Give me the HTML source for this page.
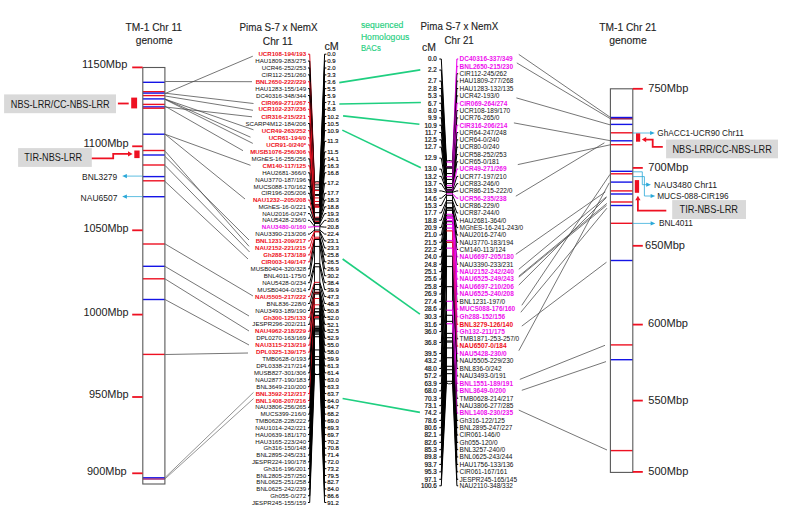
<!DOCTYPE html>
<html><head><meta charset="utf-8"><title>Chr11 / Chr21 comparative map</title>
<style>
html,body{margin:0;padding:0;background:#fff;}
svg{display:block;font-family:"Liberation Sans",sans-serif;}
</style></head>
<body>
<svg width="804" height="505" viewBox="0 0 804 505">
<rect width="804" height="505" fill="#fff"/>
<text x="125.50" y="30.70" font-size="10.6" fill="#222" textLength="56.5" lengthAdjust="spacingAndGlyphs" stroke="#222" stroke-width="0.12">TM-1 Chr 11</text>
<text x="135.80" y="44.30" font-size="10.6" fill="#222" textLength="36.8" lengthAdjust="spacingAndGlyphs" stroke="#222" stroke-width="0.12">genome</text>
<text x="239.50" y="31.30" font-size="10.6" fill="#222" textLength="78" lengthAdjust="spacingAndGlyphs" stroke="#222" stroke-width="0.12">Pima S-7 x NemX</text>
<text x="262.80" y="45.20" font-size="10.6" fill="#222" textLength="29.9" lengthAdjust="spacingAndGlyphs" stroke="#222" stroke-width="0.12">Chr 11</text>
<text x="324.50" y="50.20" font-size="10.6" fill="#222" textLength="14.3" lengthAdjust="spacingAndGlyphs" stroke="#222" stroke-width="0.12">cM</text>
<text x="360.90" y="28.30" font-size="8.9" fill="#1fcf80" textLength="42.4" lengthAdjust="spacingAndGlyphs" stroke="#1fcf80" stroke-width="0.15">sequenced</text>
<text x="360.90" y="39.90" font-size="8.9" fill="#1fcf80" textLength="48.4" lengthAdjust="spacingAndGlyphs" stroke="#1fcf80" stroke-width="0.15">Homologous</text>
<text x="360.90" y="50.80" font-size="8.9" fill="#1fcf80" textLength="19.9" lengthAdjust="spacingAndGlyphs" stroke="#1fcf80" stroke-width="0.15">BACs</text>
<text x="420.60" y="30.30" font-size="10.6" fill="#222" textLength="77.6" lengthAdjust="spacingAndGlyphs" stroke="#222" stroke-width="0.12">Pima S-7 x NemX</text>
<text x="444.50" y="44.20" font-size="10.6" fill="#222" textLength="29.2" lengthAdjust="spacingAndGlyphs" stroke="#222" stroke-width="0.12">Chr 21</text>
<text x="422.00" y="51.20" font-size="10.6" fill="#222" textLength="13.9" lengthAdjust="spacingAndGlyphs" stroke="#222" stroke-width="0.12">cM</text>
<text x="599.30" y="30.50" font-size="10.6" fill="#222" textLength="57.2" lengthAdjust="spacingAndGlyphs" stroke="#222" stroke-width="0.12">TM-1 Chr 21</text>
<text x="609.20" y="44.30" font-size="10.6" fill="#222" textLength="37.5" lengthAdjust="spacingAndGlyphs" stroke="#222" stroke-width="0.12">genome</text>
<line x1="142.80" y1="82.30" x2="164.90" y2="82.30" stroke="#1414e6" stroke-width="1.4"/>
<line x1="142.80" y1="91.70" x2="164.90" y2="91.70" stroke="#ee1122" stroke-width="1.4"/>
<line x1="142.80" y1="93.10" x2="164.90" y2="93.10" stroke="#1414e6" stroke-width="1.4"/>
<line x1="142.80" y1="95.60" x2="164.90" y2="95.60" stroke="#ee1122" stroke-width="1.4"/>
<line x1="142.80" y1="98.90" x2="164.90" y2="98.90" stroke="#1414e6" stroke-width="1.4"/>
<line x1="142.80" y1="104.40" x2="164.90" y2="104.40" stroke="#ee1122" stroke-width="1.4"/>
<line x1="142.80" y1="106.90" x2="164.90" y2="106.90" stroke="#1414e6" stroke-width="1.4"/>
<line x1="142.80" y1="108.20" x2="164.90" y2="108.20" stroke="#ee1122" stroke-width="1.4"/>
<line x1="142.80" y1="134.20" x2="164.90" y2="134.20" stroke="#1414e6" stroke-width="1.4"/>
<line x1="142.80" y1="150.50" x2="164.90" y2="150.50" stroke="#ee1122" stroke-width="1.4"/>
<line x1="142.80" y1="155.00" x2="164.90" y2="155.00" stroke="#1414e6" stroke-width="1.4"/>
<line x1="142.80" y1="165.00" x2="164.90" y2="165.00" stroke="#ee1122" stroke-width="1.4"/>
<line x1="142.80" y1="176.60" x2="164.90" y2="176.60" stroke="#1414e6" stroke-width="1.4"/>
<line x1="142.80" y1="180.80" x2="164.90" y2="180.80" stroke="#ee1122" stroke-width="1.4"/>
<line x1="142.80" y1="196.70" x2="164.90" y2="196.70" stroke="#1414e6" stroke-width="1.4"/>
<line x1="142.80" y1="244.00" x2="164.90" y2="244.00" stroke="#ee1122" stroke-width="1.4"/>
<line x1="142.80" y1="266.30" x2="164.90" y2="266.30" stroke="#1414e6" stroke-width="1.4"/>
<line x1="142.80" y1="278.80" x2="164.90" y2="278.80" stroke="#ee1122" stroke-width="1.4"/>
<line x1="142.80" y1="299.50" x2="164.90" y2="299.50" stroke="#1414e6" stroke-width="1.4"/>
<line x1="142.80" y1="354.40" x2="164.90" y2="354.40" stroke="#ee1122" stroke-width="1.4"/>
<line x1="142.80" y1="477.80" x2="164.90" y2="477.80" stroke="#1414e6" stroke-width="1.4"/>
<line x1="142.80" y1="479.00" x2="164.90" y2="479.00" stroke="#9a2070" stroke-width="1.4"/>
<rect x="142.8" y="67.5" width="22.099999999999994" height="416.5" fill="none" stroke="#585858" stroke-width="1.1"/>
<line x1="132.20" y1="67.40" x2="142.60" y2="67.40" stroke="#ee1122" stroke-width="1.8"/>
<text x="82.00" y="68.30" font-size="10.4" fill="#222" textLength="45.3" lengthAdjust="spacingAndGlyphs">1150Mbp</text>
<line x1="132.20" y1="146.30" x2="142.60" y2="146.30" stroke="#ee1122" stroke-width="1.8"/>
<text x="83.50" y="147.20" font-size="10.4" fill="#222" textLength="45.1" lengthAdjust="spacingAndGlyphs">1100Mbp</text>
<line x1="132.20" y1="230.30" x2="142.60" y2="230.30" stroke="#ee1122" stroke-width="1.8"/>
<text x="83.50" y="231.80" font-size="10.4" fill="#222" textLength="45.1" lengthAdjust="spacingAndGlyphs">1050Mbp</text>
<line x1="132.20" y1="314.60" x2="142.60" y2="314.60" stroke="#ee1122" stroke-width="1.8"/>
<text x="83.50" y="316.10" font-size="10.4" fill="#222" textLength="45.1" lengthAdjust="spacingAndGlyphs">1000Mbp</text>
<line x1="132.20" y1="397.00" x2="142.60" y2="397.00" stroke="#ee1122" stroke-width="1.8"/>
<text x="89.00" y="397.90" font-size="10.4" fill="#222" textLength="39.6" lengthAdjust="spacingAndGlyphs">950Mbp</text>
<line x1="132.20" y1="473.30" x2="142.60" y2="473.30" stroke="#ee1122" stroke-width="1.8"/>
<text x="87.00" y="474.50" font-size="10.4" fill="#222" textLength="39.7" lengthAdjust="spacingAndGlyphs">900Mbp</text>
<line x1="610.40" y1="117.50" x2="632.80" y2="117.50" stroke="#1414e6" stroke-width="1.4"/>
<line x1="610.40" y1="118.80" x2="632.80" y2="118.80" stroke="#8a1048" stroke-width="1.4"/>
<line x1="610.40" y1="124.40" x2="632.80" y2="124.40" stroke="#1414e6" stroke-width="1.4"/>
<line x1="610.40" y1="132.80" x2="632.80" y2="132.80" stroke="#ee1122" stroke-width="1.4"/>
<line x1="610.40" y1="140.80" x2="632.80" y2="140.80" stroke="#1414e6" stroke-width="1.4"/>
<line x1="610.40" y1="144.70" x2="632.80" y2="144.70" stroke="#ee1122" stroke-width="1.4"/>
<line x1="610.40" y1="171.30" x2="632.80" y2="171.30" stroke="#1414e6" stroke-width="1.4"/>
<line x1="610.40" y1="173.80" x2="632.80" y2="173.80" stroke="#ee1122" stroke-width="1.4"/>
<line x1="610.40" y1="182.10" x2="632.80" y2="182.10" stroke="#1414e6" stroke-width="1.4"/>
<line x1="610.40" y1="190.90" x2="632.80" y2="190.90" stroke="#ee1122" stroke-width="1.4"/>
<line x1="610.40" y1="194.00" x2="632.80" y2="194.00" stroke="#1414e6" stroke-width="1.4"/>
<line x1="610.40" y1="202.00" x2="632.80" y2="202.00" stroke="#ee1122" stroke-width="1.4"/>
<line x1="610.40" y1="205.50" x2="632.80" y2="205.50" stroke="#1414e6" stroke-width="1.4"/>
<line x1="610.40" y1="223.30" x2="632.80" y2="223.30" stroke="#ee1122" stroke-width="1.4"/>
<line x1="610.40" y1="260.50" x2="632.80" y2="260.50" stroke="#1414e6" stroke-width="1.4"/>
<line x1="610.40" y1="344.90" x2="632.80" y2="344.90" stroke="#ee1122" stroke-width="1.4"/>
<line x1="610.40" y1="359.70" x2="632.80" y2="359.70" stroke="#1414e6" stroke-width="1.4"/>
<line x1="610.40" y1="450.60" x2="632.80" y2="450.60" stroke="#ee1122" stroke-width="1.4"/>
<rect x="610.4" y="88.8" width="22.399999999999977" height="383.59999999999997" fill="none" stroke="#585858" stroke-width="1.1"/>
<line x1="632.80" y1="88.80" x2="642.80" y2="88.80" stroke="#ee1122" stroke-width="1.8"/>
<text x="648.30" y="92.10" font-size="10.4" fill="#222" textLength="40.0" lengthAdjust="spacingAndGlyphs">750Mbp</text>
<line x1="632.80" y1="167.90" x2="642.80" y2="167.90" stroke="#ee1122" stroke-width="1.8"/>
<text x="648.30" y="171.30" font-size="10.4" fill="#222" textLength="40.0" lengthAdjust="spacingAndGlyphs">700Mbp</text>
<line x1="632.80" y1="245.80" x2="642.80" y2="245.80" stroke="#ee1122" stroke-width="1.8"/>
<text x="645.00" y="248.80" font-size="10.4" fill="#222" textLength="40.0" lengthAdjust="spacingAndGlyphs">650Mbp</text>
<line x1="632.80" y1="324.60" x2="642.80" y2="324.60" stroke="#ee1122" stroke-width="1.8"/>
<text x="648.00" y="326.50" font-size="10.4" fill="#222" textLength="40.0" lengthAdjust="spacingAndGlyphs">600Mbp</text>
<line x1="632.80" y1="400.60" x2="642.80" y2="400.60" stroke="#ee1122" stroke-width="1.8"/>
<text x="648.30" y="403.60" font-size="10.4" fill="#222" textLength="40.0" lengthAdjust="spacingAndGlyphs">550Mbp</text>
<line x1="632.80" y1="471.90" x2="642.80" y2="471.90" stroke="#ee1122" stroke-width="1.8"/>
<text x="648.30" y="474.90" font-size="10.4" fill="#222" textLength="40.0" lengthAdjust="spacingAndGlyphs">500Mbp</text>
<rect x="4.1" y="94.4" width="111.9" height="18.8" fill="#d9d9d9"/>
<text x="10.80" y="107.80" font-size="10.3" fill="#1a1a1a" textLength="98.9" lengthAdjust="spacingAndGlyphs">NBS-LRR/CC-NBS-LRR</text>
<line x1="117.90" y1="103.50" x2="128.70" y2="103.50" stroke="#ee1122" stroke-width="1.8"/>
<rect x="131.2" y="97.6" width="5.9" height="10.8" fill="#ee1122"/>
<rect x="18.1" y="148.1" width="73.7" height="18.8" fill="#d9d9d9"/>
<text x="24.30" y="160.80" font-size="10.3" fill="#1a1a1a" textLength="57.8" lengthAdjust="spacingAndGlyphs">TIR-NBS-LRR</text>
<polyline points="91.8,158.4 113.2,158.4 113.2,153.9 129,153.9" fill="none" stroke="#ee1122" stroke-width="1.8"/>
<polygon points="128,151.2 132.6,153.9 128,156.6" fill="#ee1122"/>
<rect x="134.3" y="150.5" width="5.3" height="7.6" fill="#ee1122"/>
<line x1="142.40" y1="176.10" x2="125.20" y2="176.10" stroke="#2aa8d8" stroke-width="0.75"/>
<polygon points="122.2,176.1 126.9,174.0 126.9,178.2" fill="#2aa8d8"/>
<line x1="142.40" y1="196.60" x2="125.20" y2="196.60" stroke="#2aa8d8" stroke-width="0.75"/>
<polygon points="122.2,196.6 126.9,194.5 126.9,198.7" fill="#2aa8d8"/>
<text x="82.10" y="180.00" font-size="8.2" fill="#222" textLength="35.1" lengthAdjust="spacingAndGlyphs">BNL3279</text>
<text x="80.60" y="200.90" font-size="8.2" fill="#222" textLength="36.9" lengthAdjust="spacingAndGlyphs">NAU6507</text>
<line x1="632.80" y1="133.00" x2="651.80" y2="133.00" stroke="#2aa8d8" stroke-width="0.75"/>
<polygon points="654.8,133.0 650.1,130.9 650.1,135.1" fill="#2aa8d8"/>
<text x="657.30" y="136.10" font-size="8.2" fill="#222" textLength="86.5" lengthAdjust="spacingAndGlyphs">GhACC1-UCR90 Chr11</text>
<rect x="636" y="133.4" width="4.2" height="8.3" fill="#ee1122"/>
<polyline points="662.8,146.8 652.7,146.8 652.7,139.6 645,139.6" fill="none" stroke="#ee1122" stroke-width="1.8"/>
<polygon points="646.2,136.9 641.8,139.6 646.2,142.3" fill="#ee1122"/>
<rect x="666.1" y="139.6" width="111.9" height="18.7" fill="#d9d9d9"/>
<text x="672.50" y="152.60" font-size="10.3" fill="#1a1a1a" textLength="99.3" lengthAdjust="spacingAndGlyphs">NBS-LRR/CC-NBS-LRR</text>
<polyline points="632.8,171.8 642.3,171.8 642.3,184.7 647.5,184.7" fill="none" stroke="#2aa8d8" stroke-width="0.8"/>
<polygon points="650.9,184.7 646.2,182.6 646.2,186.8" fill="#2aa8d8"/>
<polyline points="632.8,176.6 644.4,176.6 644.4,196.0 652,196.0" fill="none" stroke="#2aa8d8" stroke-width="0.8"/>
<polygon points="655.3,196.0 650.6,193.9 650.6,198.1" fill="#2aa8d8"/>
<text x="654.10" y="187.70" font-size="8.2" fill="#222" textLength="63" lengthAdjust="spacingAndGlyphs">NAU3480  Chr11</text>
<text x="657.20" y="199.00" font-size="8.2" fill="#222" textLength="71.5" lengthAdjust="spacingAndGlyphs">MUCS-088-CIR196</text>
<rect x="634.8" y="180.1" width="4.3" height="12.7" fill="#ee1122"/>
<polyline points="666.3,210.6 637.9,210.6 637.9,199" fill="none" stroke="#ee1122" stroke-width="1.8"/>
<polygon points="635.3,200.2 637.9,195.7 640.5,200.2" fill="#ee1122"/>
<rect x="672.2" y="200.1" width="73.8" height="18.9" fill="#d9d9d9"/>
<text x="679.50" y="213.20" font-size="10.3" fill="#1a1a1a" textLength="58.5" lengthAdjust="spacingAndGlyphs">TIR-NBS-LRR</text>
<line x1="632.80" y1="223.40" x2="652.30" y2="223.40" stroke="#2aa8d8" stroke-width="0.75"/>
<polygon points="655.3,223.4 650.6,221.3 650.6,225.5" fill="#2aa8d8"/>
<text x="659.00" y="226.40" font-size="8.2" fill="#222" textLength="34" lengthAdjust="spacingAndGlyphs">BNL4011</text>
<line x1="165.20" y1="93.50" x2="252.80" y2="56.20" stroke="#484848" stroke-width="0.75"/>
<line x1="165.20" y1="81.50" x2="252.00" y2="81.70" stroke="#484848" stroke-width="0.75"/>
<line x1="165.20" y1="93.20" x2="253.50" y2="103.50" stroke="#484848" stroke-width="0.75"/>
<line x1="165.20" y1="96.00" x2="253.00" y2="110.30" stroke="#484848" stroke-width="0.75"/>
<line x1="165.20" y1="107.00" x2="252.00" y2="116.80" stroke="#484848" stroke-width="0.75"/>
<line x1="165.20" y1="99.20" x2="253.50" y2="129.80" stroke="#484848" stroke-width="0.75"/>
<line x1="165.20" y1="99.20" x2="250.50" y2="137.20" stroke="#484848" stroke-width="0.75"/>
<line x1="165.20" y1="99.50" x2="252.80" y2="143.40" stroke="#484848" stroke-width="0.75"/>
<line x1="165.20" y1="106.30" x2="243.00" y2="150.70" stroke="#484848" stroke-width="0.75"/>
<line x1="165.20" y1="134.30" x2="250.50" y2="165.30" stroke="#484848" stroke-width="0.75"/>
<line x1="165.20" y1="134.30" x2="245.00" y2="199.00" stroke="#484848" stroke-width="0.75"/>
<line x1="165.20" y1="151.30" x2="249.00" y2="246.30" stroke="#484848" stroke-width="0.75"/>
<line x1="165.20" y1="156.60" x2="249.00" y2="240.00" stroke="#484848" stroke-width="0.75"/>
<line x1="165.20" y1="165.60" x2="249.60" y2="252.00" stroke="#484848" stroke-width="0.75"/>
<line x1="165.20" y1="181.60" x2="248.00" y2="259.00" stroke="#484848" stroke-width="0.75"/>
<line x1="165.20" y1="244.00" x2="253.00" y2="296.00" stroke="#484848" stroke-width="0.75"/>
<line x1="165.20" y1="266.50" x2="249.00" y2="316.00" stroke="#484848" stroke-width="0.75"/>
<line x1="165.20" y1="279.00" x2="249.00" y2="331.00" stroke="#484848" stroke-width="0.75"/>
<line x1="165.20" y1="299.60" x2="249.00" y2="345.00" stroke="#484848" stroke-width="0.75"/>
<line x1="165.20" y1="354.50" x2="248.00" y2="353.00" stroke="#484848" stroke-width="0.75"/>
<line x1="165.20" y1="477.40" x2="253.50" y2="392.40" stroke="#5a5a5a" stroke-width="0.65"/>
<line x1="165.20" y1="478.70" x2="253.50" y2="398.60" stroke="#5a5a5a" stroke-width="0.65"/>
<line x1="518.80" y1="54.40" x2="610.30" y2="117.30" stroke="#484848" stroke-width="0.75"/>
<line x1="516.80" y1="62.90" x2="610.30" y2="118.70" stroke="#484848" stroke-width="0.75"/>
<line x1="516.40" y1="97.90" x2="610.30" y2="124.90" stroke="#484848" stroke-width="0.75"/>
<line x1="513.90" y1="122.90" x2="610.30" y2="140.70" stroke="#484848" stroke-width="0.75"/>
<line x1="517.80" y1="164.60" x2="610.30" y2="144.80" stroke="#484848" stroke-width="0.75"/>
<line x1="515.80" y1="196.20" x2="604.40" y2="142.80" stroke="#484848" stroke-width="0.75"/>
<line x1="515.80" y1="254.30" x2="605.30" y2="191.90" stroke="#484848" stroke-width="0.75"/>
<line x1="518.80" y1="269.30" x2="606.50" y2="196.70" stroke="#484848" stroke-width="0.75"/>
<line x1="518.80" y1="276.20" x2="606.90" y2="203.40" stroke="#484848" stroke-width="0.75"/>
<line x1="518.80" y1="277.20" x2="606.50" y2="205.40" stroke="#484848" stroke-width="0.75"/>
<line x1="518.80" y1="285.10" x2="606.50" y2="197.50" stroke="#484848" stroke-width="0.75"/>
<line x1="521.80" y1="305.30" x2="610.00" y2="174.40" stroke="#484848" stroke-width="0.75"/>
<line x1="520.80" y1="312.30" x2="606.90" y2="208.20" stroke="#484848" stroke-width="0.75"/>
<line x1="521.80" y1="326.10" x2="606.50" y2="262.20" stroke="#484848" stroke-width="0.75"/>
<line x1="518.80" y1="350.70" x2="609.30" y2="182.80" stroke="#484848" stroke-width="0.75"/>
<line x1="519.80" y1="379.40" x2="605.00" y2="345.30" stroke="#484848" stroke-width="0.75"/>
<line x1="521.80" y1="390.30" x2="606.00" y2="361.60" stroke="#484848" stroke-width="0.75"/>
<line x1="518.80" y1="410.10" x2="607.00" y2="450.00" stroke="#484848" stroke-width="0.75"/>
<line x1="339.30" y1="82.60" x2="420.30" y2="69.90" stroke="#1fcf80" stroke-width="1.6"/>
<line x1="339.30" y1="104.00" x2="420.90" y2="102.50" stroke="#1fcf80" stroke-width="1.6"/>
<line x1="343.10" y1="115.90" x2="419.40" y2="124.20" stroke="#1fcf80" stroke-width="1.6"/>
<line x1="342.30" y1="130.10" x2="420.90" y2="167.80" stroke="#1fcf80" stroke-width="1.6"/>
<line x1="342.60" y1="259.00" x2="419.90" y2="314.10" stroke="#1fcf80" stroke-width="1.6"/>
<line x1="342.60" y1="398.50" x2="419.90" y2="412.40" stroke="#1fcf80" stroke-width="1.6"/>
<rect x="314.5" y="181.5" width="5.300000000000011" height="193.02" rx="2" fill="#fff" stroke="#000" stroke-width="0.9"/>
<line x1="308.00" y1="54.20" x2="309.70" y2="54.20" stroke="#dc1020" stroke-width="1.0"/>
<line x1="309.70" y1="54.20" x2="314.50" y2="183.00" stroke="#dc1020" stroke-width="1.0"/>
<line x1="314.50" y1="183.00" x2="319.80" y2="183.00" stroke="#dc1020" stroke-width="1.0"/>
<line x1="308.00" y1="61.09" x2="309.70" y2="61.09" stroke="#000" stroke-width="1.0"/>
<line x1="309.70" y1="61.09" x2="314.50" y2="184.89" stroke="#000" stroke-width="1.0"/>
<line x1="314.50" y1="184.89" x2="319.80" y2="184.89" stroke="#000" stroke-width="1.0"/>
<line x1="308.00" y1="67.97" x2="309.70" y2="67.97" stroke="#000" stroke-width="1.0"/>
<line x1="309.70" y1="67.97" x2="314.50" y2="187.20" stroke="#000" stroke-width="1.0"/>
<line x1="314.50" y1="187.20" x2="319.80" y2="187.20" stroke="#000" stroke-width="1.0"/>
<line x1="308.00" y1="74.86" x2="309.70" y2="74.86" stroke="#000" stroke-width="1.0"/>
<line x1="309.70" y1="74.86" x2="314.50" y2="189.93" stroke="#000" stroke-width="1.0"/>
<line x1="314.50" y1="189.93" x2="319.80" y2="189.93" stroke="#000" stroke-width="1.0"/>
<line x1="308.00" y1="81.75" x2="309.70" y2="81.75" stroke="#dc1020" stroke-width="1.0"/>
<line x1="309.70" y1="81.75" x2="314.50" y2="190.56" stroke="#dc1020" stroke-width="1.0"/>
<line x1="314.50" y1="190.56" x2="319.80" y2="190.56" stroke="#dc1020" stroke-width="1.0"/>
<line x1="308.00" y1="88.64" x2="309.70" y2="88.64" stroke="#000" stroke-width="1.0"/>
<line x1="309.70" y1="88.64" x2="314.50" y2="194.55" stroke="#000" stroke-width="1.0"/>
<line x1="314.50" y1="194.55" x2="319.80" y2="194.55" stroke="#000" stroke-width="1.0"/>
<line x1="308.00" y1="95.53" x2="309.70" y2="95.53" stroke="#000" stroke-width="1.0"/>
<line x1="309.70" y1="95.53" x2="314.50" y2="195.39" stroke="#000" stroke-width="1.0"/>
<line x1="314.50" y1="195.39" x2="319.80" y2="195.39" stroke="#000" stroke-width="1.0"/>
<line x1="308.00" y1="102.41" x2="309.70" y2="102.41" stroke="#dc1020" stroke-width="1.0"/>
<line x1="309.70" y1="102.41" x2="314.50" y2="197.91" stroke="#dc1020" stroke-width="1.0"/>
<line x1="314.50" y1="197.91" x2="319.80" y2="197.91" stroke="#dc1020" stroke-width="1.0"/>
<line x1="308.00" y1="109.30" x2="309.70" y2="109.30" stroke="#dc1020" stroke-width="1.0"/>
<line x1="309.70" y1="109.30" x2="314.50" y2="201.48" stroke="#dc1020" stroke-width="1.0"/>
<line x1="314.50" y1="201.48" x2="319.80" y2="201.48" stroke="#dc1020" stroke-width="1.0"/>
<line x1="308.00" y1="116.42" x2="309.70" y2="116.42" stroke="#dc1020" stroke-width="1.0"/>
<line x1="309.70" y1="116.42" x2="314.50" y2="204.42" stroke="#dc1020" stroke-width="1.0"/>
<line x1="314.50" y1="204.42" x2="319.80" y2="204.42" stroke="#dc1020" stroke-width="1.0"/>
<line x1="308.00" y1="123.54" x2="309.70" y2="123.54" stroke="#000" stroke-width="1.0"/>
<line x1="309.70" y1="123.54" x2="314.50" y2="205.05" stroke="#000" stroke-width="1.0"/>
<line x1="314.50" y1="205.05" x2="319.80" y2="205.05" stroke="#000" stroke-width="1.0"/>
<line x1="308.00" y1="130.66" x2="309.70" y2="130.66" stroke="#dc1020" stroke-width="1.0"/>
<line x1="309.70" y1="130.66" x2="314.50" y2="205.89" stroke="#dc1020" stroke-width="1.0"/>
<line x1="314.50" y1="205.89" x2="319.80" y2="205.89" stroke="#dc1020" stroke-width="1.0"/>
<line x1="308.00" y1="137.78" x2="309.70" y2="137.78" stroke="#dc1020" stroke-width="1.0"/>
<line x1="309.70" y1="137.78" x2="314.50" y2="206.73" stroke="#dc1020" stroke-width="1.0"/>
<line x1="314.50" y1="206.73" x2="319.80" y2="206.73" stroke="#dc1020" stroke-width="1.0"/>
<line x1="308.00" y1="144.90" x2="309.70" y2="144.90" stroke="#dc1020" stroke-width="1.0"/>
<line x1="309.70" y1="144.90" x2="314.50" y2="206.73" stroke="#dc1020" stroke-width="1.0"/>
<line x1="314.50" y1="206.73" x2="319.80" y2="206.73" stroke="#dc1020" stroke-width="1.0"/>
<line x1="308.00" y1="151.88" x2="309.70" y2="151.88" stroke="#dc1020" stroke-width="1.0"/>
<line x1="309.70" y1="151.88" x2="314.50" y2="207.15" stroke="#dc1020" stroke-width="1.0"/>
<line x1="314.50" y1="207.15" x2="319.80" y2="207.15" stroke="#dc1020" stroke-width="1.0"/>
<line x1="308.00" y1="158.86" x2="309.70" y2="158.86" stroke="#000" stroke-width="1.0"/>
<line x1="309.70" y1="158.86" x2="314.50" y2="212.61" stroke="#000" stroke-width="1.0"/>
<line x1="314.50" y1="212.61" x2="319.80" y2="212.61" stroke="#000" stroke-width="1.0"/>
<line x1="308.00" y1="165.84" x2="309.70" y2="165.84" stroke="#dc1020" stroke-width="1.0"/>
<line x1="309.70" y1="165.84" x2="314.50" y2="217.23" stroke="#dc1020" stroke-width="1.0"/>
<line x1="314.50" y1="217.23" x2="319.80" y2="217.23" stroke="#dc1020" stroke-width="1.0"/>
<line x1="308.00" y1="172.82" x2="309.70" y2="172.82" stroke="#000" stroke-width="1.0"/>
<line x1="309.70" y1="172.82" x2="314.50" y2="218.28" stroke="#000" stroke-width="1.0"/>
<line x1="314.50" y1="218.28" x2="319.80" y2="218.28" stroke="#000" stroke-width="1.0"/>
<line x1="308.00" y1="179.80" x2="309.70" y2="179.80" stroke="#000" stroke-width="1.0"/>
<line x1="309.70" y1="179.80" x2="314.50" y2="219.12" stroke="#000" stroke-width="1.0"/>
<line x1="314.50" y1="219.12" x2="319.80" y2="219.12" stroke="#000" stroke-width="1.0"/>
<line x1="308.00" y1="186.56" x2="309.70" y2="186.56" stroke="#000" stroke-width="1.0"/>
<line x1="309.70" y1="186.56" x2="314.50" y2="219.12" stroke="#000" stroke-width="1.0"/>
<line x1="314.50" y1="219.12" x2="319.80" y2="219.12" stroke="#000" stroke-width="1.0"/>
<line x1="308.00" y1="193.31" x2="309.70" y2="193.31" stroke="#000" stroke-width="1.0"/>
<line x1="309.70" y1="193.31" x2="314.50" y2="220.17" stroke="#000" stroke-width="1.0"/>
<line x1="314.50" y1="220.17" x2="319.80" y2="220.17" stroke="#000" stroke-width="1.0"/>
<line x1="308.00" y1="200.07" x2="309.70" y2="200.07" stroke="#dc1020" stroke-width="1.0"/>
<line x1="309.70" y1="200.07" x2="314.50" y2="221.43" stroke="#dc1020" stroke-width="1.0"/>
<line x1="314.50" y1="221.43" x2="319.80" y2="221.43" stroke="#dc1020" stroke-width="1.0"/>
<line x1="308.00" y1="206.83" x2="309.70" y2="206.83" stroke="#000" stroke-width="1.0"/>
<line x1="309.70" y1="206.83" x2="314.50" y2="222.48" stroke="#000" stroke-width="1.0"/>
<line x1="314.50" y1="222.48" x2="319.80" y2="222.48" stroke="#000" stroke-width="1.0"/>
<line x1="308.00" y1="213.59" x2="309.70" y2="213.59" stroke="#000" stroke-width="1.0"/>
<line x1="309.70" y1="213.59" x2="314.50" y2="223.53" stroke="#000" stroke-width="1.0"/>
<line x1="314.50" y1="223.53" x2="319.80" y2="223.53" stroke="#000" stroke-width="1.0"/>
<line x1="308.00" y1="220.34" x2="309.70" y2="220.34" stroke="#000" stroke-width="1.0"/>
<line x1="309.70" y1="220.34" x2="314.50" y2="226.26" stroke="#000" stroke-width="1.0"/>
<line x1="314.50" y1="226.26" x2="319.80" y2="226.26" stroke="#000" stroke-width="1.0"/>
<line x1="308.00" y1="227.10" x2="309.70" y2="227.10" stroke="#ee10ee" stroke-width="1.0"/>
<line x1="309.70" y1="227.10" x2="314.50" y2="226.68" stroke="#ee10ee" stroke-width="1.0"/>
<line x1="314.50" y1="226.68" x2="319.80" y2="226.68" stroke="#ee10ee" stroke-width="1.0"/>
<line x1="308.00" y1="234.05" x2="309.70" y2="234.05" stroke="#000" stroke-width="1.0"/>
<line x1="309.70" y1="234.05" x2="314.50" y2="230.04" stroke="#000" stroke-width="1.0"/>
<line x1="314.50" y1="230.04" x2="319.80" y2="230.04" stroke="#000" stroke-width="1.0"/>
<line x1="308.00" y1="241.00" x2="309.70" y2="241.00" stroke="#dc1020" stroke-width="1.0"/>
<line x1="309.70" y1="241.00" x2="314.50" y2="231.51" stroke="#dc1020" stroke-width="1.0"/>
<line x1="314.50" y1="231.51" x2="319.80" y2="231.51" stroke="#dc1020" stroke-width="1.0"/>
<line x1="308.00" y1="247.95" x2="309.70" y2="247.95" stroke="#dc1020" stroke-width="1.0"/>
<line x1="309.70" y1="247.95" x2="314.50" y2="231.93" stroke="#dc1020" stroke-width="1.0"/>
<line x1="314.50" y1="231.93" x2="319.80" y2="231.93" stroke="#dc1020" stroke-width="1.0"/>
<line x1="308.00" y1="254.90" x2="309.70" y2="254.90" stroke="#dc1020" stroke-width="1.0"/>
<line x1="309.70" y1="254.90" x2="314.50" y2="237.18" stroke="#dc1020" stroke-width="1.0"/>
<line x1="314.50" y1="237.18" x2="319.80" y2="237.18" stroke="#dc1020" stroke-width="1.0"/>
<line x1="308.00" y1="261.85" x2="309.70" y2="261.85" stroke="#dc1020" stroke-width="1.0"/>
<line x1="309.70" y1="261.85" x2="314.50" y2="238.65" stroke="#dc1020" stroke-width="1.0"/>
<line x1="314.50" y1="238.65" x2="319.80" y2="238.65" stroke="#dc1020" stroke-width="1.0"/>
<line x1="308.00" y1="268.80" x2="309.70" y2="268.80" stroke="#000" stroke-width="1.0"/>
<line x1="309.70" y1="268.80" x2="314.50" y2="239.49" stroke="#000" stroke-width="1.0"/>
<line x1="314.50" y1="239.49" x2="319.80" y2="239.49" stroke="#000" stroke-width="1.0"/>
<line x1="308.00" y1="275.75" x2="309.70" y2="275.75" stroke="#000" stroke-width="1.0"/>
<line x1="309.70" y1="275.75" x2="314.50" y2="246.42" stroke="#000" stroke-width="1.0"/>
<line x1="314.50" y1="246.42" x2="319.80" y2="246.42" stroke="#000" stroke-width="1.0"/>
<line x1="308.00" y1="282.70" x2="309.70" y2="282.70" stroke="#000" stroke-width="1.0"/>
<line x1="309.70" y1="282.70" x2="314.50" y2="263.64" stroke="#000" stroke-width="1.0"/>
<line x1="314.50" y1="263.64" x2="319.80" y2="263.64" stroke="#000" stroke-width="1.0"/>
<line x1="308.00" y1="289.65" x2="309.70" y2="289.65" stroke="#000" stroke-width="1.0"/>
<line x1="309.70" y1="289.65" x2="314.50" y2="266.79" stroke="#000" stroke-width="1.0"/>
<line x1="314.50" y1="266.79" x2="319.80" y2="266.79" stroke="#000" stroke-width="1.0"/>
<line x1="308.00" y1="296.60" x2="309.70" y2="296.60" stroke="#dc1020" stroke-width="1.0"/>
<line x1="309.70" y1="296.60" x2="314.50" y2="282.33" stroke="#dc1020" stroke-width="1.0"/>
<line x1="314.50" y1="282.33" x2="319.80" y2="282.33" stroke="#dc1020" stroke-width="1.0"/>
<line x1="308.00" y1="303.54" x2="309.70" y2="303.54" stroke="#000" stroke-width="1.0"/>
<line x1="309.70" y1="303.54" x2="314.50" y2="284.43" stroke="#000" stroke-width="1.0"/>
<line x1="314.50" y1="284.43" x2="319.80" y2="284.43" stroke="#000" stroke-width="1.0"/>
<line x1="308.00" y1="310.48" x2="309.70" y2="310.48" stroke="#000" stroke-width="1.0"/>
<line x1="309.70" y1="310.48" x2="314.50" y2="289.68" stroke="#000" stroke-width="1.0"/>
<line x1="314.50" y1="289.68" x2="319.80" y2="289.68" stroke="#000" stroke-width="1.0"/>
<line x1="308.00" y1="317.41" x2="309.70" y2="317.41" stroke="#dc1020" stroke-width="1.0"/>
<line x1="309.70" y1="317.41" x2="314.50" y2="292.20" stroke="#dc1020" stroke-width="1.0"/>
<line x1="314.50" y1="292.20" x2="319.80" y2="292.20" stroke="#dc1020" stroke-width="1.0"/>
<line x1="308.00" y1="324.35" x2="309.70" y2="324.35" stroke="#000" stroke-width="1.0"/>
<line x1="309.70" y1="324.35" x2="314.50" y2="292.41" stroke="#000" stroke-width="1.0"/>
<line x1="314.50" y1="292.41" x2="319.80" y2="292.41" stroke="#000" stroke-width="1.0"/>
<line x1="308.00" y1="331.29" x2="309.70" y2="331.29" stroke="#dc1020" stroke-width="1.0"/>
<line x1="309.70" y1="331.29" x2="314.50" y2="293.25" stroke="#dc1020" stroke-width="1.0"/>
<line x1="314.50" y1="293.25" x2="319.80" y2="293.25" stroke="#dc1020" stroke-width="1.0"/>
<line x1="308.00" y1="338.23" x2="309.70" y2="338.23" stroke="#000" stroke-width="1.0"/>
<line x1="309.70" y1="338.23" x2="314.50" y2="294.09" stroke="#000" stroke-width="1.0"/>
<line x1="314.50" y1="294.09" x2="319.80" y2="294.09" stroke="#000" stroke-width="1.0"/>
<line x1="308.00" y1="345.16" x2="309.70" y2="345.16" stroke="#dc1020" stroke-width="1.0"/>
<line x1="309.70" y1="345.16" x2="314.50" y2="298.50" stroke="#dc1020" stroke-width="1.0"/>
<line x1="314.50" y1="298.50" x2="319.80" y2="298.50" stroke="#dc1020" stroke-width="1.0"/>
<line x1="308.00" y1="352.10" x2="309.70" y2="352.10" stroke="#dc1020" stroke-width="1.0"/>
<line x1="309.70" y1="352.10" x2="314.50" y2="304.80" stroke="#dc1020" stroke-width="1.0"/>
<line x1="314.50" y1="304.80" x2="319.80" y2="304.80" stroke="#dc1020" stroke-width="1.0"/>
<line x1="308.00" y1="359.01" x2="309.70" y2="359.01" stroke="#000" stroke-width="1.0"/>
<line x1="309.70" y1="359.01" x2="314.50" y2="308.79" stroke="#000" stroke-width="1.0"/>
<line x1="314.50" y1="308.79" x2="319.80" y2="308.79" stroke="#000" stroke-width="1.0"/>
<line x1="308.00" y1="365.93" x2="309.70" y2="365.93" stroke="#000" stroke-width="1.0"/>
<line x1="309.70" y1="365.93" x2="314.50" y2="311.73" stroke="#000" stroke-width="1.0"/>
<line x1="314.50" y1="311.73" x2="319.80" y2="311.73" stroke="#000" stroke-width="1.0"/>
<line x1="308.00" y1="372.84" x2="309.70" y2="372.84" stroke="#000" stroke-width="1.0"/>
<line x1="309.70" y1="372.84" x2="314.50" y2="311.94" stroke="#000" stroke-width="1.0"/>
<line x1="314.50" y1="311.94" x2="319.80" y2="311.94" stroke="#000" stroke-width="1.0"/>
<line x1="308.00" y1="379.76" x2="309.70" y2="379.76" stroke="#000" stroke-width="1.0"/>
<line x1="309.70" y1="379.76" x2="314.50" y2="315.30" stroke="#000" stroke-width="1.0"/>
<line x1="314.50" y1="315.30" x2="319.80" y2="315.30" stroke="#000" stroke-width="1.0"/>
<line x1="308.00" y1="386.67" x2="309.70" y2="386.67" stroke="#000" stroke-width="1.0"/>
<line x1="309.70" y1="386.67" x2="314.50" y2="315.93" stroke="#000" stroke-width="1.0"/>
<line x1="314.50" y1="315.93" x2="319.80" y2="315.93" stroke="#000" stroke-width="1.0"/>
<line x1="308.00" y1="393.59" x2="309.70" y2="393.59" stroke="#dc1020" stroke-width="1.0"/>
<line x1="309.70" y1="393.59" x2="314.50" y2="316.77" stroke="#dc1020" stroke-width="1.0"/>
<line x1="314.50" y1="316.77" x2="319.80" y2="316.77" stroke="#dc1020" stroke-width="1.0"/>
<line x1="308.00" y1="400.50" x2="309.70" y2="400.50" stroke="#dc1020" stroke-width="1.0"/>
<line x1="309.70" y1="400.50" x2="314.50" y2="317.40" stroke="#dc1020" stroke-width="1.0"/>
<line x1="314.50" y1="317.40" x2="319.80" y2="317.40" stroke="#dc1020" stroke-width="1.0"/>
<line x1="308.00" y1="407.32" x2="309.70" y2="407.32" stroke="#000" stroke-width="1.0"/>
<line x1="309.70" y1="407.32" x2="314.50" y2="318.87" stroke="#000" stroke-width="1.0"/>
<line x1="314.50" y1="318.87" x2="319.80" y2="318.87" stroke="#000" stroke-width="1.0"/>
<line x1="308.00" y1="414.13" x2="309.70" y2="414.13" stroke="#000" stroke-width="1.0"/>
<line x1="309.70" y1="414.13" x2="314.50" y2="326.22" stroke="#000" stroke-width="1.0"/>
<line x1="314.50" y1="326.22" x2="319.80" y2="326.22" stroke="#000" stroke-width="1.0"/>
<line x1="308.00" y1="420.95" x2="309.70" y2="420.95" stroke="#000" stroke-width="1.0"/>
<line x1="309.70" y1="420.95" x2="314.50" y2="327.90" stroke="#000" stroke-width="1.0"/>
<line x1="314.50" y1="327.90" x2="319.80" y2="327.90" stroke="#000" stroke-width="1.0"/>
<line x1="308.00" y1="427.77" x2="309.70" y2="427.77" stroke="#000" stroke-width="1.0"/>
<line x1="309.70" y1="427.77" x2="314.50" y2="328.53" stroke="#000" stroke-width="1.0"/>
<line x1="314.50" y1="328.53" x2="319.80" y2="328.53" stroke="#000" stroke-width="1.0"/>
<line x1="308.00" y1="434.58" x2="309.70" y2="434.58" stroke="#000" stroke-width="1.0"/>
<line x1="309.70" y1="434.58" x2="314.50" y2="329.37" stroke="#000" stroke-width="1.0"/>
<line x1="314.50" y1="329.37" x2="319.80" y2="329.37" stroke="#000" stroke-width="1.0"/>
<line x1="308.00" y1="441.40" x2="309.70" y2="441.40" stroke="#000" stroke-width="1.0"/>
<line x1="309.70" y1="441.40" x2="314.50" y2="330.42" stroke="#000" stroke-width="1.0"/>
<line x1="314.50" y1="330.42" x2="319.80" y2="330.42" stroke="#000" stroke-width="1.0"/>
<line x1="308.00" y1="448.22" x2="309.70" y2="448.22" stroke="#000" stroke-width="1.0"/>
<line x1="309.70" y1="448.22" x2="314.50" y2="331.68" stroke="#000" stroke-width="1.0"/>
<line x1="314.50" y1="331.68" x2="319.80" y2="331.68" stroke="#000" stroke-width="1.0"/>
<line x1="308.00" y1="455.04" x2="309.70" y2="455.04" stroke="#000" stroke-width="1.0"/>
<line x1="309.70" y1="455.04" x2="314.50" y2="332.94" stroke="#000" stroke-width="1.0"/>
<line x1="314.50" y1="332.94" x2="319.80" y2="332.94" stroke="#000" stroke-width="1.0"/>
<line x1="308.00" y1="461.86" x2="309.70" y2="461.86" stroke="#000" stroke-width="1.0"/>
<line x1="309.70" y1="461.86" x2="314.50" y2="334.20" stroke="#000" stroke-width="1.0"/>
<line x1="314.50" y1="334.20" x2="319.80" y2="334.20" stroke="#000" stroke-width="1.0"/>
<line x1="308.00" y1="468.68" x2="309.70" y2="468.68" stroke="#000" stroke-width="1.0"/>
<line x1="309.70" y1="468.68" x2="314.50" y2="336.72" stroke="#000" stroke-width="1.0"/>
<line x1="314.50" y1="336.72" x2="319.80" y2="336.72" stroke="#000" stroke-width="1.0"/>
<line x1="308.00" y1="475.50" x2="309.70" y2="475.50" stroke="#000" stroke-width="1.0"/>
<line x1="309.70" y1="475.50" x2="314.50" y2="349.95" stroke="#000" stroke-width="1.0"/>
<line x1="314.50" y1="349.95" x2="319.80" y2="349.95" stroke="#000" stroke-width="1.0"/>
<line x1="308.00" y1="482.25" x2="309.70" y2="482.25" stroke="#000" stroke-width="1.0"/>
<line x1="309.70" y1="482.25" x2="314.50" y2="356.67" stroke="#000" stroke-width="1.0"/>
<line x1="314.50" y1="356.67" x2="319.80" y2="356.67" stroke="#000" stroke-width="1.0"/>
<line x1="308.00" y1="489.00" x2="309.70" y2="489.00" stroke="#000" stroke-width="1.0"/>
<line x1="309.70" y1="489.00" x2="314.50" y2="359.40" stroke="#000" stroke-width="1.0"/>
<line x1="314.50" y1="359.40" x2="319.80" y2="359.40" stroke="#000" stroke-width="1.0"/>
<line x1="308.00" y1="495.75" x2="309.70" y2="495.75" stroke="#000" stroke-width="1.0"/>
<line x1="309.70" y1="495.75" x2="314.50" y2="364.86" stroke="#000" stroke-width="1.0"/>
<line x1="314.50" y1="364.86" x2="319.80" y2="364.86" stroke="#000" stroke-width="1.0"/>
<line x1="308.00" y1="502.50" x2="309.70" y2="502.50" stroke="#000" stroke-width="1.0"/>
<line x1="309.70" y1="502.50" x2="314.50" y2="374.52" stroke="#000" stroke-width="1.0"/>
<line x1="314.50" y1="374.52" x2="319.80" y2="374.52" stroke="#000" stroke-width="1.0"/>
<text x="306.20" y="56.30" font-size="6.15" fill="#ee1122" text-anchor="end" font-weight="bold">UCR108-194/193</text>
<text x="306.20" y="63.19" font-size="6.15" fill="#111" text-anchor="end">HAU1809-283/275</text>
<text x="306.20" y="70.07" font-size="6.15" fill="#111" text-anchor="end">UCR46-252/253</text>
<text x="306.20" y="76.96" font-size="6.15" fill="#111" text-anchor="end">CIR112-251/260</text>
<text x="306.20" y="83.85" font-size="6.15" fill="#ee1122" text-anchor="end" font-weight="bold">BNL2650-222/229</text>
<text x="306.20" y="90.74" font-size="6.15" fill="#111" text-anchor="end">HAU1283-155/149</text>
<text x="306.20" y="97.62" font-size="6.15" fill="#111" text-anchor="end">DC40316-348/344</text>
<text x="306.20" y="104.51" font-size="6.15" fill="#ee1122" text-anchor="end" font-weight="bold">CIR069-271/267</text>
<text x="306.20" y="111.40" font-size="6.15" fill="#ee1122" text-anchor="end" font-weight="bold">UCR102-237/236</text>
<text x="306.20" y="118.52" font-size="6.15" fill="#ee1122" text-anchor="end" font-weight="bold">CIR316-215/221</text>
<text x="306.20" y="125.64" font-size="6.15" fill="#111" text-anchor="end">SCARP4M12-184/206</text>
<text x="306.20" y="132.76" font-size="6.15" fill="#ee1122" text-anchor="end" font-weight="bold">UCR49-263/252</text>
<text x="306.20" y="139.88" font-size="6.15" fill="#ee1122" text-anchor="end" font-weight="bold">UCR61-194/0</text>
<text x="306.20" y="147.00" font-size="6.15" fill="#ee1122" text-anchor="end" font-weight="bold">UCR91-0/240*</text>
<text x="306.20" y="153.98" font-size="6.15" fill="#ee1122" text-anchor="end" font-weight="bold">MUSB1076-256/306</text>
<text x="306.20" y="160.96" font-size="6.15" fill="#111" text-anchor="end">MGhES-16-255/256</text>
<text x="306.20" y="167.94" font-size="6.15" fill="#ee1122" text-anchor="end" font-weight="bold">CM140-117/125</text>
<text x="306.20" y="174.92" font-size="6.15" fill="#111" text-anchor="end">HAU2681-366/0</text>
<text x="306.20" y="181.90" font-size="6.15" fill="#111" text-anchor="end">NAU3770-187/196</text>
<text x="306.20" y="188.66" font-size="6.15" fill="#111" text-anchor="end">MUCS088-170/162</text>
<text x="306.20" y="195.41" font-size="6.15" fill="#111" text-anchor="end">CIR196-205/206</text>
<text x="306.20" y="202.17" font-size="6.15" fill="#ee1122" text-anchor="end" font-weight="bold">NAU1232--205/208</text>
<text x="306.20" y="208.93" font-size="6.15" fill="#111" text-anchor="end">MGhES-16-0/221</text>
<text x="306.20" y="215.69" font-size="6.15" fill="#111" text-anchor="end">NAU2016-0/247</text>
<text x="306.20" y="222.44" font-size="6.15" fill="#111" text-anchor="end">NAU5428-236/0</text>
<text x="306.20" y="229.20" font-size="6.15" fill="#ee10ee" text-anchor="end" font-weight="bold">NAU3480-0/160</text>
<text x="306.20" y="236.15" font-size="6.15" fill="#111" text-anchor="end">NAU3390-213/206</text>
<text x="306.20" y="243.10" font-size="6.15" fill="#ee1122" text-anchor="end" font-weight="bold">BNL1231-209/217</text>
<text x="306.20" y="250.05" font-size="6.15" fill="#ee1122" text-anchor="end" font-weight="bold">NAU2152-221/215</text>
<text x="306.20" y="257.00" font-size="6.15" fill="#ee1122" text-anchor="end" font-weight="bold">Gh288-173/189</text>
<text x="306.20" y="263.95" font-size="6.15" fill="#ee1122" text-anchor="end" font-weight="bold">CIR003-149/147</text>
<text x="306.20" y="270.90" font-size="6.15" fill="#111" text-anchor="end">MUSB0404-320/328</text>
<text x="306.20" y="277.85" font-size="6.15" fill="#111" text-anchor="end">BNL4011-175/0</text>
<text x="306.20" y="284.80" font-size="6.15" fill="#111" text-anchor="end">NAU5428-0/234</text>
<text x="306.20" y="291.75" font-size="6.15" fill="#111" text-anchor="end">MUSB0404-0/314</text>
<text x="306.20" y="298.70" font-size="6.15" fill="#ee1122" text-anchor="end" font-weight="bold">NAU5505-217/222</text>
<text x="306.20" y="305.64" font-size="6.15" fill="#111" text-anchor="end">BNL836-228/0</text>
<text x="306.20" y="312.58" font-size="6.15" fill="#111" text-anchor="end">NAU3493-189/190</text>
<text x="306.20" y="319.51" font-size="6.15" fill="#ee1122" text-anchor="end" font-weight="bold">Gh300-125/133</text>
<text x="306.20" y="326.45" font-size="6.15" fill="#111" text-anchor="end">JESPR296-202/211</text>
<text x="306.20" y="333.39" font-size="6.15" fill="#ee1122" text-anchor="end" font-weight="bold">NAU4962-218/229</text>
<text x="306.20" y="340.33" font-size="6.15" fill="#111" text-anchor="end">DPL0270-163/169</text>
<text x="306.20" y="347.26" font-size="6.15" fill="#ee1122" text-anchor="end" font-weight="bold">NAU3115-213/219</text>
<text x="306.20" y="354.20" font-size="6.15" fill="#ee1122" text-anchor="end" font-weight="bold">DPL0325-139/175</text>
<text x="306.20" y="361.11" font-size="6.15" fill="#111" text-anchor="end">TMB0628-0/193</text>
<text x="306.20" y="368.03" font-size="6.15" fill="#111" text-anchor="end">DPL0338-217/214</text>
<text x="306.20" y="374.94" font-size="6.15" fill="#111" text-anchor="end">MUSB827-301/306</text>
<text x="306.20" y="381.86" font-size="6.15" fill="#111" text-anchor="end">NAU2877-190/183</text>
<text x="306.20" y="388.77" font-size="6.15" fill="#111" text-anchor="end">BNL3649-210/200</text>
<text x="306.20" y="395.69" font-size="6.15" fill="#ee1122" text-anchor="end" font-weight="bold">BNL3592-212/217</text>
<text x="306.20" y="402.60" font-size="6.15" fill="#ee1122" text-anchor="end" font-weight="bold">BNL1408-207/216</text>
<text x="306.20" y="409.42" font-size="6.15" fill="#111" text-anchor="end">NAU3806-256/265</text>
<text x="306.20" y="416.23" font-size="6.15" fill="#111" text-anchor="end">MUCS399-216/0</text>
<text x="306.20" y="423.05" font-size="6.15" fill="#111" text-anchor="end">TMB0628-228/222</text>
<text x="306.20" y="429.87" font-size="6.15" fill="#111" text-anchor="end">NAU1014-242/221</text>
<text x="306.20" y="436.68" font-size="6.15" fill="#111" text-anchor="end">HAU0639-181/170</text>
<text x="306.20" y="443.50" font-size="6.15" fill="#111" text-anchor="end">HAU3165-223/240</text>
<text x="306.20" y="450.32" font-size="6.15" fill="#111" text-anchor="end">Gh316-150/148</text>
<text x="306.20" y="457.14" font-size="6.15" fill="#111" text-anchor="end">BNL2895-245/231</text>
<text x="306.20" y="463.96" font-size="6.15" fill="#111" text-anchor="end">JESPR224-190/178</text>
<text x="306.20" y="470.78" font-size="6.15" fill="#111" text-anchor="end">Gh316-196/201</text>
<text x="306.20" y="477.60" font-size="6.15" fill="#111" text-anchor="end">BNL2805-257/250</text>
<text x="306.20" y="484.35" font-size="6.15" fill="#111" text-anchor="end">BNL0625-251/258</text>
<text x="306.20" y="491.10" font-size="6.15" fill="#111" text-anchor="end">BNL0625-242/239</text>
<text x="306.20" y="497.85" font-size="6.15" fill="#111" text-anchor="end">Gh055-0/272</text>
<text x="306.20" y="504.60" font-size="6.15" fill="#111" text-anchor="end">JESPR245-155/159</text>
<line x1="319.80" y1="183.00" x2="324.60" y2="54.20" stroke="#000" stroke-width="1.0"/>
<line x1="324.60" y1="54.20" x2="326.40" y2="54.20" stroke="#000" stroke-width="1.0"/>
<text x="327.20" y="56.35" font-size="6.0" fill="#111" stroke="#111" stroke-width="0.15">0.0</text>
<line x1="319.80" y1="184.89" x2="324.60" y2="61.09" stroke="#000" stroke-width="1.0"/>
<line x1="324.60" y1="61.09" x2="326.40" y2="61.09" stroke="#000" stroke-width="1.0"/>
<text x="327.20" y="63.24" font-size="6.0" fill="#111" stroke="#111" stroke-width="0.15">0.9</text>
<line x1="319.80" y1="187.20" x2="324.60" y2="67.97" stroke="#000" stroke-width="1.0"/>
<line x1="324.60" y1="67.97" x2="326.40" y2="67.97" stroke="#000" stroke-width="1.0"/>
<text x="327.20" y="70.12" font-size="6.0" fill="#111" stroke="#111" stroke-width="0.15">2.0</text>
<line x1="319.80" y1="189.93" x2="324.60" y2="74.86" stroke="#000" stroke-width="1.0"/>
<line x1="324.60" y1="74.86" x2="326.40" y2="74.86" stroke="#000" stroke-width="1.0"/>
<text x="327.20" y="77.01" font-size="6.0" fill="#111" stroke="#111" stroke-width="0.15">3.3</text>
<line x1="319.80" y1="190.56" x2="324.60" y2="81.75" stroke="#000" stroke-width="1.0"/>
<line x1="324.60" y1="81.75" x2="326.40" y2="81.75" stroke="#000" stroke-width="1.0"/>
<text x="327.20" y="83.90" font-size="6.0" fill="#111" stroke="#111" stroke-width="0.15">3.6</text>
<line x1="319.80" y1="194.55" x2="324.60" y2="88.64" stroke="#000" stroke-width="1.0"/>
<line x1="324.60" y1="88.64" x2="326.40" y2="88.64" stroke="#000" stroke-width="1.0"/>
<text x="327.20" y="90.79" font-size="6.0" fill="#111" stroke="#111" stroke-width="0.15">5.5</text>
<line x1="319.80" y1="195.39" x2="324.60" y2="95.53" stroke="#000" stroke-width="1.0"/>
<line x1="324.60" y1="95.53" x2="326.40" y2="95.53" stroke="#000" stroke-width="1.0"/>
<text x="327.20" y="97.68" font-size="6.0" fill="#111" stroke="#111" stroke-width="0.15">5.9</text>
<line x1="319.80" y1="197.91" x2="324.60" y2="102.41" stroke="#000" stroke-width="1.0"/>
<line x1="324.60" y1="102.41" x2="326.40" y2="102.41" stroke="#000" stroke-width="1.0"/>
<text x="327.20" y="104.56" font-size="6.0" fill="#111" stroke="#111" stroke-width="0.15">7.1</text>
<line x1="319.80" y1="201.48" x2="324.60" y2="109.30" stroke="#000" stroke-width="1.0"/>
<line x1="324.60" y1="109.30" x2="326.40" y2="109.30" stroke="#000" stroke-width="1.0"/>
<text x="327.20" y="111.45" font-size="6.0" fill="#111" stroke="#111" stroke-width="0.15">8.8</text>
<line x1="319.80" y1="204.42" x2="324.60" y2="116.42" stroke="#000" stroke-width="1.0"/>
<line x1="324.60" y1="116.42" x2="326.40" y2="116.42" stroke="#000" stroke-width="1.0"/>
<text x="327.20" y="118.57" font-size="6.0" fill="#111" stroke="#111" stroke-width="0.15">10.2</text>
<line x1="319.80" y1="205.05" x2="324.60" y2="123.54" stroke="#000" stroke-width="1.0"/>
<line x1="324.60" y1="123.54" x2="326.40" y2="123.54" stroke="#000" stroke-width="1.0"/>
<text x="327.20" y="125.69" font-size="6.0" fill="#111" stroke="#111" stroke-width="0.15">10.5</text>
<line x1="319.80" y1="205.89" x2="324.60" y2="130.66" stroke="#000" stroke-width="1.0"/>
<line x1="324.60" y1="130.66" x2="326.40" y2="130.66" stroke="#000" stroke-width="1.0"/>
<text x="327.20" y="132.81" font-size="6.0" fill="#111" stroke="#111" stroke-width="0.15">10.9</text>
<line x1="319.80" y1="206.73" x2="324.60" y2="141.34" stroke="#000" stroke-width="1.0"/>
<line x1="324.60" y1="141.34" x2="326.40" y2="141.34" stroke="#000" stroke-width="1.0"/>
<text x="327.20" y="143.49" font-size="6.0" fill="#111" stroke="#111" stroke-width="0.15">11.3</text>
<line x1="319.80" y1="207.15" x2="324.60" y2="151.88" stroke="#000" stroke-width="1.0"/>
<line x1="324.60" y1="151.88" x2="326.40" y2="151.88" stroke="#000" stroke-width="1.0"/>
<text x="327.20" y="154.03" font-size="6.0" fill="#111" stroke="#111" stroke-width="0.15">11.5</text>
<line x1="319.80" y1="212.61" x2="324.60" y2="158.86" stroke="#000" stroke-width="1.0"/>
<line x1="324.60" y1="158.86" x2="326.40" y2="158.86" stroke="#000" stroke-width="1.0"/>
<text x="327.20" y="161.01" font-size="6.0" fill="#111" stroke="#111" stroke-width="0.15">14.1</text>
<line x1="319.80" y1="217.23" x2="324.60" y2="165.84" stroke="#000" stroke-width="1.0"/>
<line x1="324.60" y1="165.84" x2="326.40" y2="165.84" stroke="#000" stroke-width="1.0"/>
<text x="327.20" y="167.99" font-size="6.0" fill="#111" stroke="#111" stroke-width="0.15">16.3</text>
<line x1="319.80" y1="218.28" x2="324.60" y2="172.82" stroke="#000" stroke-width="1.0"/>
<line x1="324.60" y1="172.82" x2="326.40" y2="172.82" stroke="#000" stroke-width="1.0"/>
<text x="327.20" y="174.97" font-size="6.0" fill="#111" stroke="#111" stroke-width="0.15">16.8</text>
<line x1="319.80" y1="219.12" x2="324.60" y2="183.18" stroke="#000" stroke-width="1.0"/>
<line x1="324.60" y1="183.18" x2="326.40" y2="183.18" stroke="#000" stroke-width="1.0"/>
<text x="327.20" y="185.33" font-size="6.0" fill="#111" stroke="#111" stroke-width="0.15">17.2</text>
<line x1="319.80" y1="220.17" x2="324.60" y2="193.31" stroke="#000" stroke-width="1.0"/>
<line x1="324.60" y1="193.31" x2="326.40" y2="193.31" stroke="#000" stroke-width="1.0"/>
<text x="327.20" y="195.46" font-size="6.0" fill="#111" stroke="#111" stroke-width="0.15">17.7</text>
<line x1="319.80" y1="221.43" x2="324.60" y2="200.07" stroke="#000" stroke-width="1.0"/>
<line x1="324.60" y1="200.07" x2="326.40" y2="200.07" stroke="#000" stroke-width="1.0"/>
<text x="327.20" y="202.22" font-size="6.0" fill="#111" stroke="#111" stroke-width="0.15">18.3</text>
<line x1="319.80" y1="222.48" x2="324.60" y2="206.83" stroke="#000" stroke-width="1.0"/>
<line x1="324.60" y1="206.83" x2="326.40" y2="206.83" stroke="#000" stroke-width="1.0"/>
<text x="327.20" y="208.98" font-size="6.0" fill="#111" stroke="#111" stroke-width="0.15">18.8</text>
<line x1="319.80" y1="223.53" x2="324.60" y2="213.59" stroke="#000" stroke-width="1.0"/>
<line x1="324.60" y1="213.59" x2="326.40" y2="213.59" stroke="#000" stroke-width="1.0"/>
<text x="327.20" y="215.74" font-size="6.0" fill="#111" stroke="#111" stroke-width="0.15">19.3</text>
<line x1="319.80" y1="226.26" x2="324.60" y2="220.34" stroke="#000" stroke-width="1.0"/>
<line x1="324.60" y1="220.34" x2="326.40" y2="220.34" stroke="#000" stroke-width="1.0"/>
<text x="327.20" y="222.49" font-size="6.0" fill="#111" stroke="#111" stroke-width="0.15">20.6</text>
<line x1="319.80" y1="226.68" x2="324.60" y2="227.10" stroke="#000" stroke-width="1.0"/>
<line x1="324.60" y1="227.10" x2="326.40" y2="227.10" stroke="#000" stroke-width="1.0"/>
<text x="327.20" y="229.25" font-size="6.0" fill="#111" stroke="#111" stroke-width="0.15">20.8</text>
<line x1="319.80" y1="230.04" x2="324.60" y2="234.05" stroke="#000" stroke-width="1.0"/>
<line x1="324.60" y1="234.05" x2="326.40" y2="234.05" stroke="#000" stroke-width="1.0"/>
<text x="327.20" y="236.20" font-size="6.0" fill="#111" stroke="#111" stroke-width="0.15">22.4</text>
<line x1="319.80" y1="231.51" x2="324.60" y2="241.00" stroke="#000" stroke-width="1.0"/>
<line x1="324.60" y1="241.00" x2="326.40" y2="241.00" stroke="#000" stroke-width="1.0"/>
<text x="327.20" y="243.15" font-size="6.0" fill="#111" stroke="#111" stroke-width="0.15">23.1</text>
<line x1="319.80" y1="231.93" x2="324.60" y2="247.95" stroke="#000" stroke-width="1.0"/>
<line x1="324.60" y1="247.95" x2="326.40" y2="247.95" stroke="#000" stroke-width="1.0"/>
<text x="327.20" y="250.10" font-size="6.0" fill="#111" stroke="#111" stroke-width="0.15">23.3</text>
<line x1="319.80" y1="237.18" x2="324.60" y2="254.90" stroke="#000" stroke-width="1.0"/>
<line x1="324.60" y1="254.90" x2="326.40" y2="254.90" stroke="#000" stroke-width="1.0"/>
<text x="327.20" y="257.05" font-size="6.0" fill="#111" stroke="#111" stroke-width="0.15">25.8</text>
<line x1="319.80" y1="238.65" x2="324.60" y2="261.85" stroke="#000" stroke-width="1.0"/>
<line x1="324.60" y1="261.85" x2="326.40" y2="261.85" stroke="#000" stroke-width="1.0"/>
<text x="327.20" y="264.00" font-size="6.0" fill="#111" stroke="#111" stroke-width="0.15">26.5</text>
<line x1="319.80" y1="239.49" x2="324.60" y2="268.80" stroke="#000" stroke-width="1.0"/>
<line x1="324.60" y1="268.80" x2="326.40" y2="268.80" stroke="#000" stroke-width="1.0"/>
<text x="327.20" y="270.95" font-size="6.0" fill="#111" stroke="#111" stroke-width="0.15">26.9</text>
<line x1="319.80" y1="246.42" x2="324.60" y2="275.75" stroke="#000" stroke-width="1.0"/>
<line x1="324.60" y1="275.75" x2="326.40" y2="275.75" stroke="#000" stroke-width="1.0"/>
<text x="327.20" y="277.90" font-size="6.0" fill="#111" stroke="#111" stroke-width="0.15">30.2</text>
<line x1="319.80" y1="263.64" x2="324.60" y2="282.70" stroke="#000" stroke-width="1.0"/>
<line x1="324.60" y1="282.70" x2="326.40" y2="282.70" stroke="#000" stroke-width="1.0"/>
<text x="327.20" y="284.85" font-size="6.0" fill="#111" stroke="#111" stroke-width="0.15">38.4</text>
<line x1="319.80" y1="266.79" x2="324.60" y2="289.65" stroke="#000" stroke-width="1.0"/>
<line x1="324.60" y1="289.65" x2="326.40" y2="289.65" stroke="#000" stroke-width="1.0"/>
<text x="327.20" y="291.80" font-size="6.0" fill="#111" stroke="#111" stroke-width="0.15">39.9</text>
<line x1="319.80" y1="282.33" x2="324.60" y2="296.60" stroke="#000" stroke-width="1.0"/>
<line x1="324.60" y1="296.60" x2="326.40" y2="296.60" stroke="#000" stroke-width="1.0"/>
<text x="327.20" y="298.75" font-size="6.0" fill="#111" stroke="#111" stroke-width="0.15">47.3</text>
<line x1="319.80" y1="284.43" x2="324.60" y2="303.54" stroke="#000" stroke-width="1.0"/>
<line x1="324.60" y1="303.54" x2="326.40" y2="303.54" stroke="#000" stroke-width="1.0"/>
<text x="327.20" y="305.69" font-size="6.0" fill="#111" stroke="#111" stroke-width="0.15">48.3</text>
<line x1="319.80" y1="289.68" x2="324.60" y2="310.48" stroke="#000" stroke-width="1.0"/>
<line x1="324.60" y1="310.48" x2="326.40" y2="310.48" stroke="#000" stroke-width="1.0"/>
<text x="327.20" y="312.62" font-size="6.0" fill="#111" stroke="#111" stroke-width="0.15">50.8</text>
<line x1="319.80" y1="292.20" x2="324.60" y2="317.41" stroke="#000" stroke-width="1.0"/>
<line x1="324.60" y1="317.41" x2="326.40" y2="317.41" stroke="#000" stroke-width="1.0"/>
<text x="327.20" y="319.56" font-size="6.0" fill="#111" stroke="#111" stroke-width="0.15">52.0</text>
<line x1="319.80" y1="292.41" x2="324.60" y2="324.35" stroke="#000" stroke-width="1.0"/>
<line x1="324.60" y1="324.35" x2="326.40" y2="324.35" stroke="#000" stroke-width="1.0"/>
<text x="327.20" y="326.50" font-size="6.0" fill="#111" stroke="#111" stroke-width="0.15">52.1</text>
<line x1="319.80" y1="293.25" x2="324.60" y2="331.29" stroke="#000" stroke-width="1.0"/>
<line x1="324.60" y1="331.29" x2="326.40" y2="331.29" stroke="#000" stroke-width="1.0"/>
<text x="327.20" y="333.44" font-size="6.0" fill="#111" stroke="#111" stroke-width="0.15">52.5</text>
<line x1="319.80" y1="294.09" x2="324.60" y2="338.23" stroke="#000" stroke-width="1.0"/>
<line x1="324.60" y1="338.23" x2="326.40" y2="338.23" stroke="#000" stroke-width="1.0"/>
<text x="327.20" y="340.38" font-size="6.0" fill="#111" stroke="#111" stroke-width="0.15">52.9</text>
<line x1="319.80" y1="298.50" x2="324.60" y2="345.16" stroke="#000" stroke-width="1.0"/>
<line x1="324.60" y1="345.16" x2="326.40" y2="345.16" stroke="#000" stroke-width="1.0"/>
<text x="327.20" y="347.31" font-size="6.0" fill="#111" stroke="#111" stroke-width="0.15">55.0</text>
<line x1="319.80" y1="304.80" x2="324.60" y2="352.10" stroke="#000" stroke-width="1.0"/>
<line x1="324.60" y1="352.10" x2="326.40" y2="352.10" stroke="#000" stroke-width="1.0"/>
<text x="327.20" y="354.25" font-size="6.0" fill="#111" stroke="#111" stroke-width="0.15">58.0</text>
<line x1="319.80" y1="308.79" x2="324.60" y2="359.01" stroke="#000" stroke-width="1.0"/>
<line x1="324.60" y1="359.01" x2="326.40" y2="359.01" stroke="#000" stroke-width="1.0"/>
<text x="327.20" y="361.16" font-size="6.0" fill="#111" stroke="#111" stroke-width="0.15">59.9</text>
<line x1="319.80" y1="311.73" x2="324.60" y2="365.93" stroke="#000" stroke-width="1.0"/>
<line x1="324.60" y1="365.93" x2="326.40" y2="365.93" stroke="#000" stroke-width="1.0"/>
<text x="327.20" y="368.08" font-size="6.0" fill="#111" stroke="#111" stroke-width="0.15">61.3</text>
<line x1="319.80" y1="311.94" x2="324.60" y2="372.84" stroke="#000" stroke-width="1.0"/>
<line x1="324.60" y1="372.84" x2="326.40" y2="372.84" stroke="#000" stroke-width="1.0"/>
<text x="327.20" y="374.99" font-size="6.0" fill="#111" stroke="#111" stroke-width="0.15">61.4</text>
<line x1="319.80" y1="315.30" x2="324.60" y2="379.76" stroke="#000" stroke-width="1.0"/>
<line x1="324.60" y1="379.76" x2="326.40" y2="379.76" stroke="#000" stroke-width="1.0"/>
<text x="327.20" y="381.91" font-size="6.0" fill="#111" stroke="#111" stroke-width="0.15">63.0</text>
<line x1="319.80" y1="315.93" x2="324.60" y2="386.67" stroke="#000" stroke-width="1.0"/>
<line x1="324.60" y1="386.67" x2="326.40" y2="386.67" stroke="#000" stroke-width="1.0"/>
<text x="327.20" y="388.82" font-size="6.0" fill="#111" stroke="#111" stroke-width="0.15">63.3</text>
<line x1="319.80" y1="316.77" x2="324.60" y2="393.59" stroke="#000" stroke-width="1.0"/>
<line x1="324.60" y1="393.59" x2="326.40" y2="393.59" stroke="#000" stroke-width="1.0"/>
<text x="327.20" y="395.74" font-size="6.0" fill="#111" stroke="#111" stroke-width="0.15">63.7</text>
<line x1="319.80" y1="317.40" x2="324.60" y2="400.50" stroke="#000" stroke-width="1.0"/>
<line x1="324.60" y1="400.50" x2="326.40" y2="400.50" stroke="#000" stroke-width="1.0"/>
<text x="327.20" y="402.65" font-size="6.0" fill="#111" stroke="#111" stroke-width="0.15">64.0</text>
<line x1="319.80" y1="318.87" x2="324.60" y2="407.32" stroke="#000" stroke-width="1.0"/>
<line x1="324.60" y1="407.32" x2="326.40" y2="407.32" stroke="#000" stroke-width="1.0"/>
<text x="327.20" y="409.47" font-size="6.0" fill="#111" stroke="#111" stroke-width="0.15">64.7</text>
<line x1="319.80" y1="326.22" x2="324.60" y2="414.13" stroke="#000" stroke-width="1.0"/>
<line x1="324.60" y1="414.13" x2="326.40" y2="414.13" stroke="#000" stroke-width="1.0"/>
<text x="327.20" y="416.28" font-size="6.0" fill="#111" stroke="#111" stroke-width="0.15">68.2</text>
<line x1="319.80" y1="327.90" x2="324.60" y2="420.95" stroke="#000" stroke-width="1.0"/>
<line x1="324.60" y1="420.95" x2="326.40" y2="420.95" stroke="#000" stroke-width="1.0"/>
<text x="327.20" y="423.10" font-size="6.0" fill="#111" stroke="#111" stroke-width="0.15">69.0</text>
<line x1="319.80" y1="328.53" x2="324.60" y2="427.77" stroke="#000" stroke-width="1.0"/>
<line x1="324.60" y1="427.77" x2="326.40" y2="427.77" stroke="#000" stroke-width="1.0"/>
<text x="327.20" y="429.92" font-size="6.0" fill="#111" stroke="#111" stroke-width="0.15">69.3</text>
<line x1="319.80" y1="329.37" x2="324.60" y2="434.58" stroke="#000" stroke-width="1.0"/>
<line x1="324.60" y1="434.58" x2="326.40" y2="434.58" stroke="#000" stroke-width="1.0"/>
<text x="327.20" y="436.73" font-size="6.0" fill="#111" stroke="#111" stroke-width="0.15">69.7</text>
<line x1="319.80" y1="330.42" x2="324.60" y2="441.40" stroke="#000" stroke-width="1.0"/>
<line x1="324.60" y1="441.40" x2="326.40" y2="441.40" stroke="#000" stroke-width="1.0"/>
<text x="327.20" y="443.55" font-size="6.0" fill="#111" stroke="#111" stroke-width="0.15">70.2</text>
<line x1="319.80" y1="331.68" x2="324.60" y2="448.22" stroke="#000" stroke-width="1.0"/>
<line x1="324.60" y1="448.22" x2="326.40" y2="448.22" stroke="#000" stroke-width="1.0"/>
<text x="327.20" y="450.37" font-size="6.0" fill="#111" stroke="#111" stroke-width="0.15">70.8</text>
<line x1="319.80" y1="332.94" x2="324.60" y2="455.04" stroke="#000" stroke-width="1.0"/>
<line x1="324.60" y1="455.04" x2="326.40" y2="455.04" stroke="#000" stroke-width="1.0"/>
<text x="327.20" y="457.19" font-size="6.0" fill="#111" stroke="#111" stroke-width="0.15">71.4</text>
<line x1="319.80" y1="334.20" x2="324.60" y2="461.86" stroke="#000" stroke-width="1.0"/>
<line x1="324.60" y1="461.86" x2="326.40" y2="461.86" stroke="#000" stroke-width="1.0"/>
<text x="327.20" y="464.01" font-size="6.0" fill="#111" stroke="#111" stroke-width="0.15">72.0</text>
<line x1="319.80" y1="336.72" x2="324.60" y2="468.68" stroke="#000" stroke-width="1.0"/>
<line x1="324.60" y1="468.68" x2="326.40" y2="468.68" stroke="#000" stroke-width="1.0"/>
<text x="327.20" y="470.83" font-size="6.0" fill="#111" stroke="#111" stroke-width="0.15">73.2</text>
<line x1="319.80" y1="349.95" x2="324.60" y2="475.50" stroke="#000" stroke-width="1.0"/>
<line x1="324.60" y1="475.50" x2="326.40" y2="475.50" stroke="#000" stroke-width="1.0"/>
<text x="327.20" y="477.65" font-size="6.0" fill="#111" stroke="#111" stroke-width="0.15">79.5</text>
<line x1="319.80" y1="356.67" x2="324.60" y2="482.25" stroke="#000" stroke-width="1.0"/>
<line x1="324.60" y1="482.25" x2="326.40" y2="482.25" stroke="#000" stroke-width="1.0"/>
<text x="327.20" y="484.40" font-size="6.0" fill="#111" stroke="#111" stroke-width="0.15">82.7</text>
<line x1="319.80" y1="359.40" x2="324.60" y2="489.00" stroke="#000" stroke-width="1.0"/>
<line x1="324.60" y1="489.00" x2="326.40" y2="489.00" stroke="#000" stroke-width="1.0"/>
<text x="327.20" y="491.15" font-size="6.0" fill="#111" stroke="#111" stroke-width="0.15">84.0</text>
<line x1="319.80" y1="364.86" x2="324.60" y2="495.75" stroke="#000" stroke-width="1.0"/>
<line x1="324.60" y1="495.75" x2="326.40" y2="495.75" stroke="#000" stroke-width="1.0"/>
<text x="327.20" y="497.90" font-size="6.0" fill="#111" stroke="#111" stroke-width="0.15">86.6</text>
<line x1="319.80" y1="374.52" x2="324.60" y2="502.50" stroke="#000" stroke-width="1.0"/>
<line x1="324.60" y1="502.50" x2="326.40" y2="502.50" stroke="#000" stroke-width="1.0"/>
<text x="327.20" y="504.65" font-size="6.0" fill="#111" stroke="#111" stroke-width="0.15">91.2</text>
<rect x="446.5" y="160.5" width="6.0" height="223.308" rx="2" fill="#fff" stroke="#000" stroke-width="0.9"/>
<line x1="441.30" y1="59.00" x2="446.50" y2="162.00" stroke="#000" stroke-width="1.0"/>
<line x1="439.30" y1="59.00" x2="441.30" y2="59.00" stroke="#000" stroke-width="1.0"/>
<text x="436.80" y="61.30" font-size="6.3" fill="#111" text-anchor="end" stroke="#111" stroke-width="0.2">0.0</text>
<line x1="441.30" y1="70.06" x2="446.50" y2="166.80" stroke="#000" stroke-width="1.0"/>
<line x1="439.30" y1="70.06" x2="441.30" y2="70.06" stroke="#000" stroke-width="1.0"/>
<text x="436.80" y="72.36" font-size="6.3" fill="#111" text-anchor="end" stroke="#111" stroke-width="0.2">2.2</text>
<line x1="441.30" y1="81.11" x2="446.50" y2="167.89" stroke="#000" stroke-width="1.0"/>
<line x1="439.30" y1="81.11" x2="441.30" y2="81.11" stroke="#000" stroke-width="1.0"/>
<text x="436.80" y="83.41" font-size="6.3" fill="#111" text-anchor="end" stroke="#111" stroke-width="0.2">2.7</text>
<line x1="441.30" y1="88.49" x2="446.50" y2="168.10" stroke="#000" stroke-width="1.0"/>
<line x1="439.30" y1="88.49" x2="441.30" y2="88.49" stroke="#000" stroke-width="1.0"/>
<text x="436.80" y="90.79" font-size="6.3" fill="#111" text-anchor="end" stroke="#111" stroke-width="0.2">2.8</text>
<line x1="441.30" y1="95.86" x2="446.50" y2="173.55" stroke="#000" stroke-width="1.0"/>
<line x1="439.30" y1="95.86" x2="441.30" y2="95.86" stroke="#000" stroke-width="1.0"/>
<text x="436.80" y="98.16" font-size="6.3" fill="#111" text-anchor="end" stroke="#111" stroke-width="0.2">5.3</text>
<line x1="441.30" y1="103.23" x2="446.50" y2="176.61" stroke="#000" stroke-width="1.0"/>
<line x1="439.30" y1="103.23" x2="441.30" y2="103.23" stroke="#000" stroke-width="1.0"/>
<text x="436.80" y="105.53" font-size="6.3" fill="#111" text-anchor="end" stroke="#111" stroke-width="0.2">6.7</text>
<line x1="441.30" y1="110.60" x2="446.50" y2="179.44" stroke="#000" stroke-width="1.0"/>
<line x1="439.30" y1="110.60" x2="441.30" y2="110.60" stroke="#000" stroke-width="1.0"/>
<text x="436.80" y="112.90" font-size="6.3" fill="#111" text-anchor="end" stroke="#111" stroke-width="0.2">8.0</text>
<line x1="441.30" y1="117.91" x2="446.50" y2="183.58" stroke="#000" stroke-width="1.0"/>
<line x1="439.30" y1="117.91" x2="441.30" y2="117.91" stroke="#000" stroke-width="1.0"/>
<text x="436.80" y="120.21" font-size="6.3" fill="#111" text-anchor="end" stroke="#111" stroke-width="0.2">9.9</text>
<line x1="441.30" y1="125.22" x2="446.50" y2="185.76" stroke="#000" stroke-width="1.0"/>
<line x1="439.30" y1="125.22" x2="441.30" y2="125.22" stroke="#000" stroke-width="1.0"/>
<text x="436.80" y="127.52" font-size="6.3" fill="#111" text-anchor="end" stroke="#111" stroke-width="0.2">10.9</text>
<line x1="441.30" y1="132.54" x2="446.50" y2="187.51" stroke="#000" stroke-width="1.0"/>
<line x1="439.30" y1="132.54" x2="441.30" y2="132.54" stroke="#000" stroke-width="1.0"/>
<text x="436.80" y="134.84" font-size="6.3" fill="#111" text-anchor="end" stroke="#111" stroke-width="0.2">11.7</text>
<line x1="441.30" y1="139.85" x2="446.50" y2="189.25" stroke="#000" stroke-width="1.0"/>
<line x1="439.30" y1="139.85" x2="441.30" y2="139.85" stroke="#000" stroke-width="1.0"/>
<text x="436.80" y="142.15" font-size="6.3" fill="#111" text-anchor="end" stroke="#111" stroke-width="0.2">12.5</text>
<line x1="441.30" y1="147.16" x2="446.50" y2="189.69" stroke="#000" stroke-width="1.0"/>
<line x1="439.30" y1="147.16" x2="441.30" y2="147.16" stroke="#000" stroke-width="1.0"/>
<text x="436.80" y="149.46" font-size="6.3" fill="#111" text-anchor="end" stroke="#111" stroke-width="0.2">12.7</text>
<line x1="441.30" y1="158.13" x2="446.50" y2="190.12" stroke="#000" stroke-width="1.0"/>
<line x1="439.30" y1="158.13" x2="441.30" y2="158.13" stroke="#000" stroke-width="1.0"/>
<text x="436.80" y="160.43" font-size="6.3" fill="#111" text-anchor="end" stroke="#111" stroke-width="0.2">12.9</text>
<line x1="441.30" y1="169.10" x2="446.50" y2="190.34" stroke="#000" stroke-width="1.0"/>
<line x1="439.30" y1="169.10" x2="441.30" y2="169.10" stroke="#000" stroke-width="1.0"/>
<text x="436.80" y="171.40" font-size="6.3" fill="#111" text-anchor="end" stroke="#111" stroke-width="0.2">13.0</text>
<line x1="441.30" y1="176.38" x2="446.50" y2="190.78" stroke="#000" stroke-width="1.0"/>
<line x1="439.30" y1="176.38" x2="441.30" y2="176.38" stroke="#000" stroke-width="1.0"/>
<text x="436.80" y="178.68" font-size="6.3" fill="#111" text-anchor="end" stroke="#111" stroke-width="0.2">13.2</text>
<line x1="441.30" y1="183.65" x2="446.50" y2="191.87" stroke="#000" stroke-width="1.0"/>
<line x1="439.30" y1="183.65" x2="441.30" y2="183.65" stroke="#000" stroke-width="1.0"/>
<text x="436.80" y="185.95" font-size="6.3" fill="#111" text-anchor="end" stroke="#111" stroke-width="0.2">13.7</text>
<line x1="441.30" y1="190.92" x2="446.50" y2="192.30" stroke="#000" stroke-width="1.0"/>
<line x1="439.30" y1="190.92" x2="441.30" y2="190.92" stroke="#000" stroke-width="1.0"/>
<text x="436.80" y="193.22" font-size="6.3" fill="#111" text-anchor="end" stroke="#111" stroke-width="0.2">13.9</text>
<line x1="441.30" y1="198.20" x2="446.50" y2="193.83" stroke="#000" stroke-width="1.0"/>
<line x1="439.30" y1="198.20" x2="441.30" y2="198.20" stroke="#000" stroke-width="1.0"/>
<text x="436.80" y="200.50" font-size="6.3" fill="#111" text-anchor="end" stroke="#111" stroke-width="0.2">14.6</text>
<line x1="441.30" y1="205.56" x2="446.50" y2="195.35" stroke="#000" stroke-width="1.0"/>
<line x1="439.30" y1="205.56" x2="441.30" y2="205.56" stroke="#000" stroke-width="1.0"/>
<text x="436.80" y="207.86" font-size="6.3" fill="#111" text-anchor="end" stroke="#111" stroke-width="0.2">15.3</text>
<line x1="441.30" y1="212.92" x2="446.50" y2="200.59" stroke="#000" stroke-width="1.0"/>
<line x1="439.30" y1="212.92" x2="441.30" y2="212.92" stroke="#000" stroke-width="1.0"/>
<text x="436.80" y="215.22" font-size="6.3" fill="#111" text-anchor="end" stroke="#111" stroke-width="0.2">17.7</text>
<line x1="441.30" y1="220.28" x2="446.50" y2="202.98" stroke="#000" stroke-width="1.0"/>
<line x1="439.30" y1="220.28" x2="441.30" y2="220.28" stroke="#000" stroke-width="1.0"/>
<text x="436.80" y="222.58" font-size="6.3" fill="#111" text-anchor="end" stroke="#111" stroke-width="0.2">18.8</text>
<line x1="441.30" y1="227.64" x2="446.50" y2="207.56" stroke="#000" stroke-width="1.0"/>
<line x1="439.30" y1="227.64" x2="441.30" y2="227.64" stroke="#000" stroke-width="1.0"/>
<text x="436.80" y="229.94" font-size="6.3" fill="#111" text-anchor="end" stroke="#111" stroke-width="0.2">20.9</text>
<line x1="441.30" y1="235.00" x2="446.50" y2="207.78" stroke="#000" stroke-width="1.0"/>
<line x1="439.30" y1="235.00" x2="441.30" y2="235.00" stroke="#000" stroke-width="1.0"/>
<text x="436.80" y="237.30" font-size="6.3" fill="#111" text-anchor="end" stroke="#111" stroke-width="0.2">21.0</text>
<line x1="441.30" y1="242.27" x2="446.50" y2="208.87" stroke="#000" stroke-width="1.0"/>
<line x1="439.30" y1="242.27" x2="441.30" y2="242.27" stroke="#000" stroke-width="1.0"/>
<text x="436.80" y="244.57" font-size="6.3" fill="#111" text-anchor="end" stroke="#111" stroke-width="0.2">21.5</text>
<line x1="441.30" y1="249.53" x2="446.50" y2="210.40" stroke="#000" stroke-width="1.0"/>
<line x1="439.30" y1="249.53" x2="441.30" y2="249.53" stroke="#000" stroke-width="1.0"/>
<text x="436.80" y="251.83" font-size="6.3" fill="#111" text-anchor="end" stroke="#111" stroke-width="0.2">22.2</text>
<line x1="441.30" y1="256.80" x2="446.50" y2="214.32" stroke="#000" stroke-width="1.0"/>
<line x1="439.30" y1="256.80" x2="441.30" y2="256.80" stroke="#000" stroke-width="1.0"/>
<text x="436.80" y="259.10" font-size="6.3" fill="#111" text-anchor="end" stroke="#111" stroke-width="0.2">24.0</text>
<line x1="441.30" y1="264.23" x2="446.50" y2="216.06" stroke="#000" stroke-width="1.0"/>
<line x1="439.30" y1="264.23" x2="441.30" y2="264.23" stroke="#000" stroke-width="1.0"/>
<text x="436.80" y="266.53" font-size="6.3" fill="#111" text-anchor="end" stroke="#111" stroke-width="0.2">24.8</text>
<line x1="441.30" y1="271.65" x2="446.50" y2="216.72" stroke="#000" stroke-width="1.0"/>
<line x1="439.30" y1="271.65" x2="441.30" y2="271.65" stroke="#000" stroke-width="1.0"/>
<text x="436.80" y="273.95" font-size="6.3" fill="#111" text-anchor="end" stroke="#111" stroke-width="0.2">25.1</text>
<line x1="441.30" y1="279.07" x2="446.50" y2="217.81" stroke="#000" stroke-width="1.0"/>
<line x1="439.30" y1="279.07" x2="441.30" y2="279.07" stroke="#000" stroke-width="1.0"/>
<text x="436.80" y="281.38" font-size="6.3" fill="#111" text-anchor="end" stroke="#111" stroke-width="0.2">25.6</text>
<line x1="441.30" y1="286.50" x2="446.50" y2="218.24" stroke="#000" stroke-width="1.0"/>
<line x1="439.30" y1="286.50" x2="441.30" y2="286.50" stroke="#000" stroke-width="1.0"/>
<text x="436.80" y="288.80" font-size="6.3" fill="#111" text-anchor="end" stroke="#111" stroke-width="0.2">25.8</text>
<line x1="441.30" y1="294.06" x2="446.50" y2="220.64" stroke="#000" stroke-width="1.0"/>
<line x1="439.30" y1="294.06" x2="441.30" y2="294.06" stroke="#000" stroke-width="1.0"/>
<text x="436.80" y="296.36" font-size="6.3" fill="#111" text-anchor="end" stroke="#111" stroke-width="0.2">26.9</text>
<line x1="441.30" y1="301.62" x2="446.50" y2="221.73" stroke="#000" stroke-width="1.0"/>
<line x1="439.30" y1="301.62" x2="441.30" y2="301.62" stroke="#000" stroke-width="1.0"/>
<text x="436.80" y="303.92" font-size="6.3" fill="#111" text-anchor="end" stroke="#111" stroke-width="0.2">27.4</text>
<line x1="441.30" y1="309.18" x2="446.50" y2="224.35" stroke="#000" stroke-width="1.0"/>
<line x1="439.30" y1="309.18" x2="441.30" y2="309.18" stroke="#000" stroke-width="1.0"/>
<text x="436.80" y="311.48" font-size="6.3" fill="#111" text-anchor="end" stroke="#111" stroke-width="0.2">28.6</text>
<line x1="441.30" y1="316.74" x2="446.50" y2="228.05" stroke="#000" stroke-width="1.0"/>
<line x1="439.30" y1="316.74" x2="441.30" y2="316.74" stroke="#000" stroke-width="1.0"/>
<text x="436.80" y="319.04" font-size="6.3" fill="#111" text-anchor="end" stroke="#111" stroke-width="0.2">30.3</text>
<line x1="441.30" y1="324.30" x2="446.50" y2="230.89" stroke="#000" stroke-width="1.0"/>
<line x1="439.30" y1="324.30" x2="441.30" y2="324.30" stroke="#000" stroke-width="1.0"/>
<text x="436.80" y="326.60" font-size="6.3" fill="#111" text-anchor="end" stroke="#111" stroke-width="0.2">31.6</text>
<line x1="441.30" y1="331.57" x2="446.50" y2="240.48" stroke="#000" stroke-width="1.0"/>
<line x1="439.30" y1="331.57" x2="441.30" y2="331.57" stroke="#000" stroke-width="1.0"/>
<text x="436.80" y="333.87" font-size="6.3" fill="#111" text-anchor="end" stroke="#111" stroke-width="0.2">36.0</text>
<line x1="441.30" y1="342.47" x2="446.50" y2="242.22" stroke="#000" stroke-width="1.0"/>
<line x1="439.30" y1="342.47" x2="441.30" y2="342.47" stroke="#000" stroke-width="1.0"/>
<text x="436.80" y="344.77" font-size="6.3" fill="#111" text-anchor="end" stroke="#111" stroke-width="0.2">36.8</text>
<line x1="441.30" y1="353.56" x2="446.50" y2="248.11" stroke="#000" stroke-width="1.0"/>
<line x1="439.30" y1="353.56" x2="441.30" y2="353.56" stroke="#000" stroke-width="1.0"/>
<text x="436.80" y="355.86" font-size="6.3" fill="#111" text-anchor="end" stroke="#111" stroke-width="0.2">39.5</text>
<line x1="441.30" y1="361.02" x2="446.50" y2="256.18" stroke="#000" stroke-width="1.0"/>
<line x1="439.30" y1="361.02" x2="441.30" y2="361.02" stroke="#000" stroke-width="1.0"/>
<text x="436.80" y="363.32" font-size="6.3" fill="#111" text-anchor="end" stroke="#111" stroke-width="0.2">43.2</text>
<line x1="441.30" y1="368.48" x2="446.50" y2="266.64" stroke="#000" stroke-width="1.0"/>
<line x1="439.30" y1="368.48" x2="441.30" y2="368.48" stroke="#000" stroke-width="1.0"/>
<text x="436.80" y="370.78" font-size="6.3" fill="#111" text-anchor="end" stroke="#111" stroke-width="0.2">48.0</text>
<line x1="441.30" y1="375.94" x2="446.50" y2="286.70" stroke="#000" stroke-width="1.0"/>
<line x1="439.30" y1="375.94" x2="441.30" y2="375.94" stroke="#000" stroke-width="1.0"/>
<text x="436.80" y="378.24" font-size="6.3" fill="#111" text-anchor="end" stroke="#111" stroke-width="0.2">57.2</text>
<line x1="441.30" y1="383.40" x2="446.50" y2="301.30" stroke="#000" stroke-width="1.0"/>
<line x1="439.30" y1="383.40" x2="441.30" y2="383.40" stroke="#000" stroke-width="1.0"/>
<text x="436.80" y="385.70" font-size="6.3" fill="#111" text-anchor="end" stroke="#111" stroke-width="0.2">63.9</text>
<line x1="441.30" y1="390.82" x2="446.50" y2="310.24" stroke="#000" stroke-width="1.0"/>
<line x1="439.30" y1="390.82" x2="441.30" y2="390.82" stroke="#000" stroke-width="1.0"/>
<text x="436.80" y="393.12" font-size="6.3" fill="#111" text-anchor="end" stroke="#111" stroke-width="0.2">68.0</text>
<line x1="441.30" y1="398.25" x2="446.50" y2="315.25" stroke="#000" stroke-width="1.0"/>
<line x1="439.30" y1="398.25" x2="441.30" y2="398.25" stroke="#000" stroke-width="1.0"/>
<text x="436.80" y="400.55" font-size="6.3" fill="#111" text-anchor="end" stroke="#111" stroke-width="0.2">70.3</text>
<line x1="441.30" y1="405.68" x2="446.50" y2="321.36" stroke="#000" stroke-width="1.0"/>
<line x1="439.30" y1="405.68" x2="441.30" y2="405.68" stroke="#000" stroke-width="1.0"/>
<text x="436.80" y="407.98" font-size="6.3" fill="#111" text-anchor="end" stroke="#111" stroke-width="0.2">73.1</text>
<line x1="441.30" y1="413.10" x2="446.50" y2="323.76" stroke="#000" stroke-width="1.0"/>
<line x1="439.30" y1="413.10" x2="441.30" y2="413.10" stroke="#000" stroke-width="1.0"/>
<text x="436.80" y="415.40" font-size="6.3" fill="#111" text-anchor="end" stroke="#111" stroke-width="0.2">74.2</text>
<line x1="441.30" y1="420.42" x2="446.50" y2="333.35" stroke="#000" stroke-width="1.0"/>
<line x1="439.30" y1="420.42" x2="441.30" y2="420.42" stroke="#000" stroke-width="1.0"/>
<text x="436.80" y="422.72" font-size="6.3" fill="#111" text-anchor="end" stroke="#111" stroke-width="0.2">78.6</text>
<line x1="441.30" y1="427.73" x2="446.50" y2="337.71" stroke="#000" stroke-width="1.0"/>
<line x1="439.30" y1="427.73" x2="441.30" y2="427.73" stroke="#000" stroke-width="1.0"/>
<text x="436.80" y="430.03" font-size="6.3" fill="#111" text-anchor="end" stroke="#111" stroke-width="0.2">80.6</text>
<line x1="441.30" y1="435.05" x2="446.50" y2="340.98" stroke="#000" stroke-width="1.0"/>
<line x1="439.30" y1="435.05" x2="441.30" y2="435.05" stroke="#000" stroke-width="1.0"/>
<text x="436.80" y="437.35" font-size="6.3" fill="#111" text-anchor="end" stroke="#111" stroke-width="0.2">82.1</text>
<line x1="441.30" y1="442.37" x2="446.50" y2="342.07" stroke="#000" stroke-width="1.0"/>
<line x1="439.30" y1="442.37" x2="441.30" y2="442.37" stroke="#000" stroke-width="1.0"/>
<text x="436.80" y="444.67" font-size="6.3" fill="#111" text-anchor="end" stroke="#111" stroke-width="0.2">82.6</text>
<line x1="441.30" y1="449.68" x2="446.50" y2="347.95" stroke="#000" stroke-width="1.0"/>
<line x1="439.30" y1="449.68" x2="441.30" y2="449.68" stroke="#000" stroke-width="1.0"/>
<text x="436.80" y="451.98" font-size="6.3" fill="#111" text-anchor="end" stroke="#111" stroke-width="0.2">85.3</text>
<line x1="441.30" y1="457.00" x2="446.50" y2="357.76" stroke="#000" stroke-width="1.0"/>
<line x1="439.30" y1="457.00" x2="441.30" y2="457.00" stroke="#000" stroke-width="1.0"/>
<text x="436.80" y="459.30" font-size="6.3" fill="#111" text-anchor="end" stroke="#111" stroke-width="0.2">89.8</text>
<line x1="441.30" y1="464.43" x2="446.50" y2="366.27" stroke="#000" stroke-width="1.0"/>
<line x1="439.30" y1="464.43" x2="441.30" y2="464.43" stroke="#000" stroke-width="1.0"/>
<text x="436.80" y="466.73" font-size="6.3" fill="#111" text-anchor="end" stroke="#111" stroke-width="0.2">93.7</text>
<line x1="441.30" y1="471.87" x2="446.50" y2="369.75" stroke="#000" stroke-width="1.0"/>
<line x1="439.30" y1="471.87" x2="441.30" y2="471.87" stroke="#000" stroke-width="1.0"/>
<text x="436.80" y="474.17" font-size="6.3" fill="#111" text-anchor="end" stroke="#111" stroke-width="0.2">95.3</text>
<line x1="441.30" y1="479.30" x2="446.50" y2="373.68" stroke="#000" stroke-width="1.0"/>
<line x1="439.30" y1="479.30" x2="441.30" y2="479.30" stroke="#000" stroke-width="1.0"/>
<text x="436.80" y="481.60" font-size="6.3" fill="#111" text-anchor="end" stroke="#111" stroke-width="0.2">97.1</text>
<line x1="441.30" y1="485.80" x2="446.50" y2="381.31" stroke="#000" stroke-width="1.0"/>
<line x1="439.30" y1="485.80" x2="441.30" y2="485.80" stroke="#000" stroke-width="1.0"/>
<text x="436.80" y="488.10" font-size="6.3" fill="#111" text-anchor="end" stroke="#111" stroke-width="0.2">100.6</text>
<line x1="446.50" y1="162.00" x2="452.50" y2="162.00" stroke="#ee10ee" stroke-width="1.0"/>
<line x1="452.50" y1="162.00" x2="456.90" y2="59.00" stroke="#ee10ee" stroke-width="1.0"/>
<line x1="456.90" y1="59.00" x2="458.20" y2="59.00" stroke="#ee10ee" stroke-width="1.0"/>
<line x1="446.50" y1="166.80" x2="452.50" y2="166.80" stroke="#ee10ee" stroke-width="1.0"/>
<line x1="452.50" y1="166.80" x2="456.90" y2="66.37" stroke="#ee10ee" stroke-width="1.0"/>
<line x1="456.90" y1="66.37" x2="458.20" y2="66.37" stroke="#ee10ee" stroke-width="1.0"/>
<line x1="446.50" y1="166.80" x2="452.50" y2="166.80" stroke="#000" stroke-width="1.0"/>
<line x1="452.50" y1="166.80" x2="456.90" y2="73.74" stroke="#000" stroke-width="1.0"/>
<line x1="456.90" y1="73.74" x2="458.20" y2="73.74" stroke="#000" stroke-width="1.0"/>
<line x1="446.50" y1="167.89" x2="452.50" y2="167.89" stroke="#000" stroke-width="1.0"/>
<line x1="452.50" y1="167.89" x2="456.90" y2="81.11" stroke="#000" stroke-width="1.0"/>
<line x1="456.90" y1="81.11" x2="458.20" y2="81.11" stroke="#000" stroke-width="1.0"/>
<line x1="446.50" y1="168.10" x2="452.50" y2="168.10" stroke="#000" stroke-width="1.0"/>
<line x1="452.50" y1="168.10" x2="456.90" y2="88.49" stroke="#000" stroke-width="1.0"/>
<line x1="456.90" y1="88.49" x2="458.20" y2="88.49" stroke="#000" stroke-width="1.0"/>
<line x1="446.50" y1="173.55" x2="452.50" y2="173.55" stroke="#000" stroke-width="1.0"/>
<line x1="452.50" y1="173.55" x2="456.90" y2="95.86" stroke="#000" stroke-width="1.0"/>
<line x1="456.90" y1="95.86" x2="458.20" y2="95.86" stroke="#000" stroke-width="1.0"/>
<line x1="446.50" y1="176.61" x2="452.50" y2="176.61" stroke="#ee10ee" stroke-width="1.0"/>
<line x1="452.50" y1="176.61" x2="456.90" y2="103.23" stroke="#ee10ee" stroke-width="1.0"/>
<line x1="456.90" y1="103.23" x2="458.20" y2="103.23" stroke="#ee10ee" stroke-width="1.0"/>
<line x1="446.50" y1="179.44" x2="452.50" y2="179.44" stroke="#000" stroke-width="1.0"/>
<line x1="452.50" y1="179.44" x2="456.90" y2="110.60" stroke="#000" stroke-width="1.0"/>
<line x1="456.90" y1="110.60" x2="458.20" y2="110.60" stroke="#000" stroke-width="1.0"/>
<line x1="446.50" y1="183.58" x2="452.50" y2="183.58" stroke="#000" stroke-width="1.0"/>
<line x1="452.50" y1="183.58" x2="456.90" y2="117.91" stroke="#000" stroke-width="1.0"/>
<line x1="456.90" y1="117.91" x2="458.20" y2="117.91" stroke="#000" stroke-width="1.0"/>
<line x1="446.50" y1="185.76" x2="452.50" y2="185.76" stroke="#ee10ee" stroke-width="1.0"/>
<line x1="452.50" y1="185.76" x2="456.90" y2="125.22" stroke="#ee10ee" stroke-width="1.0"/>
<line x1="456.90" y1="125.22" x2="458.20" y2="125.22" stroke="#ee10ee" stroke-width="1.0"/>
<line x1="446.50" y1="187.51" x2="452.50" y2="187.51" stroke="#000" stroke-width="1.0"/>
<line x1="452.50" y1="187.51" x2="456.90" y2="132.54" stroke="#000" stroke-width="1.0"/>
<line x1="456.90" y1="132.54" x2="458.20" y2="132.54" stroke="#000" stroke-width="1.0"/>
<line x1="446.50" y1="189.25" x2="452.50" y2="189.25" stroke="#000" stroke-width="1.0"/>
<line x1="452.50" y1="189.25" x2="456.90" y2="139.85" stroke="#000" stroke-width="1.0"/>
<line x1="456.90" y1="139.85" x2="458.20" y2="139.85" stroke="#000" stroke-width="1.0"/>
<line x1="446.50" y1="189.69" x2="452.50" y2="189.69" stroke="#000" stroke-width="1.0"/>
<line x1="452.50" y1="189.69" x2="456.90" y2="147.16" stroke="#000" stroke-width="1.0"/>
<line x1="456.90" y1="147.16" x2="458.20" y2="147.16" stroke="#000" stroke-width="1.0"/>
<line x1="446.50" y1="190.12" x2="452.50" y2="190.12" stroke="#000" stroke-width="1.0"/>
<line x1="452.50" y1="190.12" x2="456.90" y2="154.47" stroke="#000" stroke-width="1.0"/>
<line x1="456.90" y1="154.47" x2="458.20" y2="154.47" stroke="#000" stroke-width="1.0"/>
<line x1="446.50" y1="190.12" x2="452.50" y2="190.12" stroke="#000" stroke-width="1.0"/>
<line x1="452.50" y1="190.12" x2="456.90" y2="161.79" stroke="#000" stroke-width="1.0"/>
<line x1="456.90" y1="161.79" x2="458.20" y2="161.79" stroke="#000" stroke-width="1.0"/>
<line x1="446.50" y1="190.34" x2="452.50" y2="190.34" stroke="#ee10ee" stroke-width="1.0"/>
<line x1="452.50" y1="190.34" x2="456.90" y2="169.10" stroke="#ee10ee" stroke-width="1.0"/>
<line x1="456.90" y1="169.10" x2="458.20" y2="169.10" stroke="#ee10ee" stroke-width="1.0"/>
<line x1="446.50" y1="190.78" x2="452.50" y2="190.78" stroke="#000" stroke-width="1.0"/>
<line x1="452.50" y1="190.78" x2="456.90" y2="176.38" stroke="#000" stroke-width="1.0"/>
<line x1="456.90" y1="176.38" x2="458.20" y2="176.38" stroke="#000" stroke-width="1.0"/>
<line x1="446.50" y1="191.87" x2="452.50" y2="191.87" stroke="#000" stroke-width="1.0"/>
<line x1="452.50" y1="191.87" x2="456.90" y2="183.65" stroke="#000" stroke-width="1.0"/>
<line x1="456.90" y1="183.65" x2="458.20" y2="183.65" stroke="#000" stroke-width="1.0"/>
<line x1="446.50" y1="192.30" x2="452.50" y2="192.30" stroke="#000" stroke-width="1.0"/>
<line x1="452.50" y1="192.30" x2="456.90" y2="190.92" stroke="#000" stroke-width="1.0"/>
<line x1="456.90" y1="190.92" x2="458.20" y2="190.92" stroke="#000" stroke-width="1.0"/>
<line x1="446.50" y1="193.83" x2="452.50" y2="193.83" stroke="#ee10ee" stroke-width="1.0"/>
<line x1="452.50" y1="193.83" x2="456.90" y2="198.20" stroke="#ee10ee" stroke-width="1.0"/>
<line x1="456.90" y1="198.20" x2="458.20" y2="198.20" stroke="#ee10ee" stroke-width="1.0"/>
<line x1="446.50" y1="195.35" x2="452.50" y2="195.35" stroke="#000" stroke-width="1.0"/>
<line x1="452.50" y1="195.35" x2="456.90" y2="205.56" stroke="#000" stroke-width="1.0"/>
<line x1="456.90" y1="205.56" x2="458.20" y2="205.56" stroke="#000" stroke-width="1.0"/>
<line x1="446.50" y1="200.59" x2="452.50" y2="200.59" stroke="#000" stroke-width="1.0"/>
<line x1="452.50" y1="200.59" x2="456.90" y2="212.92" stroke="#000" stroke-width="1.0"/>
<line x1="456.90" y1="212.92" x2="458.20" y2="212.92" stroke="#000" stroke-width="1.0"/>
<line x1="446.50" y1="202.98" x2="452.50" y2="202.98" stroke="#000" stroke-width="1.0"/>
<line x1="452.50" y1="202.98" x2="456.90" y2="220.28" stroke="#000" stroke-width="1.0"/>
<line x1="456.90" y1="220.28" x2="458.20" y2="220.28" stroke="#000" stroke-width="1.0"/>
<line x1="446.50" y1="207.56" x2="452.50" y2="207.56" stroke="#000" stroke-width="1.0"/>
<line x1="452.50" y1="207.56" x2="456.90" y2="227.64" stroke="#000" stroke-width="1.0"/>
<line x1="456.90" y1="227.64" x2="458.20" y2="227.64" stroke="#000" stroke-width="1.0"/>
<line x1="446.50" y1="207.78" x2="452.50" y2="207.78" stroke="#000" stroke-width="1.0"/>
<line x1="452.50" y1="207.78" x2="456.90" y2="235.00" stroke="#000" stroke-width="1.0"/>
<line x1="456.90" y1="235.00" x2="458.20" y2="235.00" stroke="#000" stroke-width="1.0"/>
<line x1="446.50" y1="208.87" x2="452.50" y2="208.87" stroke="#000" stroke-width="1.0"/>
<line x1="452.50" y1="208.87" x2="456.90" y2="242.27" stroke="#000" stroke-width="1.0"/>
<line x1="456.90" y1="242.27" x2="458.20" y2="242.27" stroke="#000" stroke-width="1.0"/>
<line x1="446.50" y1="210.40" x2="452.50" y2="210.40" stroke="#000" stroke-width="1.0"/>
<line x1="452.50" y1="210.40" x2="456.90" y2="249.53" stroke="#000" stroke-width="1.0"/>
<line x1="456.90" y1="249.53" x2="458.20" y2="249.53" stroke="#000" stroke-width="1.0"/>
<line x1="446.50" y1="214.32" x2="452.50" y2="214.32" stroke="#ee10ee" stroke-width="1.0"/>
<line x1="452.50" y1="214.32" x2="456.90" y2="256.80" stroke="#ee10ee" stroke-width="1.0"/>
<line x1="456.90" y1="256.80" x2="458.20" y2="256.80" stroke="#ee10ee" stroke-width="1.0"/>
<line x1="446.50" y1="216.06" x2="452.50" y2="216.06" stroke="#000" stroke-width="1.0"/>
<line x1="452.50" y1="216.06" x2="456.90" y2="264.23" stroke="#000" stroke-width="1.0"/>
<line x1="456.90" y1="264.23" x2="458.20" y2="264.23" stroke="#000" stroke-width="1.0"/>
<line x1="446.50" y1="216.72" x2="452.50" y2="216.72" stroke="#ee10ee" stroke-width="1.0"/>
<line x1="452.50" y1="216.72" x2="456.90" y2="271.65" stroke="#ee10ee" stroke-width="1.0"/>
<line x1="456.90" y1="271.65" x2="458.20" y2="271.65" stroke="#ee10ee" stroke-width="1.0"/>
<line x1="446.50" y1="217.81" x2="452.50" y2="217.81" stroke="#ee10ee" stroke-width="1.0"/>
<line x1="452.50" y1="217.81" x2="456.90" y2="279.07" stroke="#ee10ee" stroke-width="1.0"/>
<line x1="456.90" y1="279.07" x2="458.20" y2="279.07" stroke="#ee10ee" stroke-width="1.0"/>
<line x1="446.50" y1="218.24" x2="452.50" y2="218.24" stroke="#ee10ee" stroke-width="1.0"/>
<line x1="452.50" y1="218.24" x2="456.90" y2="286.50" stroke="#ee10ee" stroke-width="1.0"/>
<line x1="456.90" y1="286.50" x2="458.20" y2="286.50" stroke="#ee10ee" stroke-width="1.0"/>
<line x1="446.50" y1="220.64" x2="452.50" y2="220.64" stroke="#ee10ee" stroke-width="1.0"/>
<line x1="452.50" y1="220.64" x2="456.90" y2="294.06" stroke="#ee10ee" stroke-width="1.0"/>
<line x1="456.90" y1="294.06" x2="458.20" y2="294.06" stroke="#ee10ee" stroke-width="1.0"/>
<line x1="446.50" y1="221.73" x2="452.50" y2="221.73" stroke="#000" stroke-width="1.0"/>
<line x1="452.50" y1="221.73" x2="456.90" y2="301.62" stroke="#000" stroke-width="1.0"/>
<line x1="456.90" y1="301.62" x2="458.20" y2="301.62" stroke="#000" stroke-width="1.0"/>
<line x1="446.50" y1="224.35" x2="452.50" y2="224.35" stroke="#ee10ee" stroke-width="1.0"/>
<line x1="452.50" y1="224.35" x2="456.90" y2="309.18" stroke="#ee10ee" stroke-width="1.0"/>
<line x1="456.90" y1="309.18" x2="458.20" y2="309.18" stroke="#ee10ee" stroke-width="1.0"/>
<line x1="446.50" y1="228.05" x2="452.50" y2="228.05" stroke="#ee10ee" stroke-width="1.0"/>
<line x1="452.50" y1="228.05" x2="456.90" y2="316.74" stroke="#ee10ee" stroke-width="1.0"/>
<line x1="456.90" y1="316.74" x2="458.20" y2="316.74" stroke="#ee10ee" stroke-width="1.0"/>
<line x1="446.50" y1="230.89" x2="452.50" y2="230.89" stroke="#ee1122" stroke-width="1.0"/>
<line x1="452.50" y1="230.89" x2="456.90" y2="324.30" stroke="#ee1122" stroke-width="1.0"/>
<line x1="456.90" y1="324.30" x2="458.20" y2="324.30" stroke="#ee1122" stroke-width="1.0"/>
<line x1="446.50" y1="240.48" x2="452.50" y2="240.48" stroke="#ee10ee" stroke-width="1.0"/>
<line x1="452.50" y1="240.48" x2="456.90" y2="331.57" stroke="#ee10ee" stroke-width="1.0"/>
<line x1="456.90" y1="331.57" x2="458.20" y2="331.57" stroke="#ee10ee" stroke-width="1.0"/>
<line x1="446.50" y1="242.22" x2="452.50" y2="242.22" stroke="#000" stroke-width="1.0"/>
<line x1="452.50" y1="242.22" x2="456.90" y2="338.83" stroke="#000" stroke-width="1.0"/>
<line x1="456.90" y1="338.83" x2="458.20" y2="338.83" stroke="#000" stroke-width="1.0"/>
<line x1="446.50" y1="242.22" x2="452.50" y2="242.22" stroke="#ee1122" stroke-width="1.0"/>
<line x1="452.50" y1="242.22" x2="456.90" y2="346.10" stroke="#ee1122" stroke-width="1.0"/>
<line x1="456.90" y1="346.10" x2="458.20" y2="346.10" stroke="#ee1122" stroke-width="1.0"/>
<line x1="446.50" y1="248.11" x2="452.50" y2="248.11" stroke="#ee10ee" stroke-width="1.0"/>
<line x1="452.50" y1="248.11" x2="456.90" y2="353.56" stroke="#ee10ee" stroke-width="1.0"/>
<line x1="456.90" y1="353.56" x2="458.20" y2="353.56" stroke="#ee10ee" stroke-width="1.0"/>
<line x1="446.50" y1="256.18" x2="452.50" y2="256.18" stroke="#000" stroke-width="1.0"/>
<line x1="452.50" y1="256.18" x2="456.90" y2="361.02" stroke="#000" stroke-width="1.0"/>
<line x1="456.90" y1="361.02" x2="458.20" y2="361.02" stroke="#000" stroke-width="1.0"/>
<line x1="446.50" y1="266.64" x2="452.50" y2="266.64" stroke="#000" stroke-width="1.0"/>
<line x1="452.50" y1="266.64" x2="456.90" y2="368.48" stroke="#000" stroke-width="1.0"/>
<line x1="456.90" y1="368.48" x2="458.20" y2="368.48" stroke="#000" stroke-width="1.0"/>
<line x1="446.50" y1="286.70" x2="452.50" y2="286.70" stroke="#000" stroke-width="1.0"/>
<line x1="452.50" y1="286.70" x2="456.90" y2="375.94" stroke="#000" stroke-width="1.0"/>
<line x1="456.90" y1="375.94" x2="458.20" y2="375.94" stroke="#000" stroke-width="1.0"/>
<line x1="446.50" y1="301.30" x2="452.50" y2="301.30" stroke="#ee10ee" stroke-width="1.0"/>
<line x1="452.50" y1="301.30" x2="456.90" y2="383.40" stroke="#ee10ee" stroke-width="1.0"/>
<line x1="456.90" y1="383.40" x2="458.20" y2="383.40" stroke="#ee10ee" stroke-width="1.0"/>
<line x1="446.50" y1="310.24" x2="452.50" y2="310.24" stroke="#ee10ee" stroke-width="1.0"/>
<line x1="452.50" y1="310.24" x2="456.90" y2="390.82" stroke="#ee10ee" stroke-width="1.0"/>
<line x1="456.90" y1="390.82" x2="458.20" y2="390.82" stroke="#ee10ee" stroke-width="1.0"/>
<line x1="446.50" y1="315.25" x2="452.50" y2="315.25" stroke="#000" stroke-width="1.0"/>
<line x1="452.50" y1="315.25" x2="456.90" y2="398.25" stroke="#000" stroke-width="1.0"/>
<line x1="456.90" y1="398.25" x2="458.20" y2="398.25" stroke="#000" stroke-width="1.0"/>
<line x1="446.50" y1="321.36" x2="452.50" y2="321.36" stroke="#000" stroke-width="1.0"/>
<line x1="452.50" y1="321.36" x2="456.90" y2="405.68" stroke="#000" stroke-width="1.0"/>
<line x1="456.90" y1="405.68" x2="458.20" y2="405.68" stroke="#000" stroke-width="1.0"/>
<line x1="446.50" y1="323.76" x2="452.50" y2="323.76" stroke="#ee10ee" stroke-width="1.0"/>
<line x1="452.50" y1="323.76" x2="456.90" y2="413.10" stroke="#ee10ee" stroke-width="1.0"/>
<line x1="456.90" y1="413.10" x2="458.20" y2="413.10" stroke="#ee10ee" stroke-width="1.0"/>
<line x1="446.50" y1="333.35" x2="452.50" y2="333.35" stroke="#000" stroke-width="1.0"/>
<line x1="452.50" y1="333.35" x2="456.90" y2="420.42" stroke="#000" stroke-width="1.0"/>
<line x1="456.90" y1="420.42" x2="458.20" y2="420.42" stroke="#000" stroke-width="1.0"/>
<line x1="446.50" y1="337.71" x2="452.50" y2="337.71" stroke="#000" stroke-width="1.0"/>
<line x1="452.50" y1="337.71" x2="456.90" y2="427.73" stroke="#000" stroke-width="1.0"/>
<line x1="456.90" y1="427.73" x2="458.20" y2="427.73" stroke="#000" stroke-width="1.0"/>
<line x1="446.50" y1="340.98" x2="452.50" y2="340.98" stroke="#000" stroke-width="1.0"/>
<line x1="452.50" y1="340.98" x2="456.90" y2="435.05" stroke="#000" stroke-width="1.0"/>
<line x1="456.90" y1="435.05" x2="458.20" y2="435.05" stroke="#000" stroke-width="1.0"/>
<line x1="446.50" y1="342.07" x2="452.50" y2="342.07" stroke="#000" stroke-width="1.0"/>
<line x1="452.50" y1="342.07" x2="456.90" y2="442.37" stroke="#000" stroke-width="1.0"/>
<line x1="456.90" y1="442.37" x2="458.20" y2="442.37" stroke="#000" stroke-width="1.0"/>
<line x1="446.50" y1="347.95" x2="452.50" y2="347.95" stroke="#000" stroke-width="1.0"/>
<line x1="452.50" y1="347.95" x2="456.90" y2="449.68" stroke="#000" stroke-width="1.0"/>
<line x1="456.90" y1="449.68" x2="458.20" y2="449.68" stroke="#000" stroke-width="1.0"/>
<line x1="446.50" y1="357.76" x2="452.50" y2="357.76" stroke="#000" stroke-width="1.0"/>
<line x1="452.50" y1="357.76" x2="456.90" y2="457.00" stroke="#000" stroke-width="1.0"/>
<line x1="456.90" y1="457.00" x2="458.20" y2="457.00" stroke="#000" stroke-width="1.0"/>
<line x1="446.50" y1="366.27" x2="452.50" y2="366.27" stroke="#000" stroke-width="1.0"/>
<line x1="452.50" y1="366.27" x2="456.90" y2="464.43" stroke="#000" stroke-width="1.0"/>
<line x1="456.90" y1="464.43" x2="458.20" y2="464.43" stroke="#000" stroke-width="1.0"/>
<line x1="446.50" y1="369.75" x2="452.50" y2="369.75" stroke="#000" stroke-width="1.0"/>
<line x1="452.50" y1="369.75" x2="456.90" y2="471.87" stroke="#000" stroke-width="1.0"/>
<line x1="456.90" y1="471.87" x2="458.20" y2="471.87" stroke="#000" stroke-width="1.0"/>
<line x1="446.50" y1="373.68" x2="452.50" y2="373.68" stroke="#000" stroke-width="1.0"/>
<line x1="452.50" y1="373.68" x2="456.90" y2="479.30" stroke="#000" stroke-width="1.0"/>
<line x1="456.90" y1="479.30" x2="458.20" y2="479.30" stroke="#000" stroke-width="1.0"/>
<line x1="446.50" y1="381.31" x2="452.50" y2="381.31" stroke="#000" stroke-width="1.0"/>
<line x1="452.50" y1="381.31" x2="456.90" y2="485.80" stroke="#000" stroke-width="1.0"/>
<line x1="456.90" y1="485.80" x2="458.20" y2="485.80" stroke="#000" stroke-width="1.0"/>
<line x1="446.50" y1="162.00" x2="452.50" y2="162.00" stroke="#ee10ee" stroke-width="1.1" opacity="0.3"/>
<line x1="452.50" y1="162.00" x2="456.90" y2="59.00" stroke="#ee10ee" stroke-width="1.1" opacity="0.3"/>
<line x1="456.90" y1="59.00" x2="458.20" y2="59.00" stroke="#ee10ee" stroke-width="1.1" opacity="0.3"/>
<line x1="446.50" y1="166.80" x2="452.50" y2="166.80" stroke="#ee10ee" stroke-width="1.1" opacity="0.3"/>
<line x1="452.50" y1="166.80" x2="456.90" y2="66.37" stroke="#ee10ee" stroke-width="1.1" opacity="0.3"/>
<line x1="456.90" y1="66.37" x2="458.20" y2="66.37" stroke="#ee10ee" stroke-width="1.1" opacity="0.3"/>
<line x1="446.50" y1="176.61" x2="452.50" y2="176.61" stroke="#ee10ee" stroke-width="1.1" opacity="0.3"/>
<line x1="452.50" y1="176.61" x2="456.90" y2="103.23" stroke="#ee10ee" stroke-width="1.1" opacity="0.3"/>
<line x1="456.90" y1="103.23" x2="458.20" y2="103.23" stroke="#ee10ee" stroke-width="1.1" opacity="0.3"/>
<line x1="446.50" y1="185.76" x2="452.50" y2="185.76" stroke="#ee10ee" stroke-width="1.1" opacity="0.3"/>
<line x1="452.50" y1="185.76" x2="456.90" y2="125.22" stroke="#ee10ee" stroke-width="1.1" opacity="0.3"/>
<line x1="456.90" y1="125.22" x2="458.20" y2="125.22" stroke="#ee10ee" stroke-width="1.1" opacity="0.3"/>
<line x1="446.50" y1="190.34" x2="452.50" y2="190.34" stroke="#ee10ee" stroke-width="1.1" opacity="0.3"/>
<line x1="452.50" y1="190.34" x2="456.90" y2="169.10" stroke="#ee10ee" stroke-width="1.1" opacity="0.3"/>
<line x1="456.90" y1="169.10" x2="458.20" y2="169.10" stroke="#ee10ee" stroke-width="1.1" opacity="0.3"/>
<line x1="446.50" y1="193.83" x2="452.50" y2="193.83" stroke="#ee10ee" stroke-width="1.1" opacity="0.3"/>
<line x1="452.50" y1="193.83" x2="456.90" y2="198.20" stroke="#ee10ee" stroke-width="1.1" opacity="0.3"/>
<line x1="456.90" y1="198.20" x2="458.20" y2="198.20" stroke="#ee10ee" stroke-width="1.1" opacity="0.3"/>
<line x1="446.50" y1="214.32" x2="452.50" y2="214.32" stroke="#ee10ee" stroke-width="1.1" opacity="0.3"/>
<line x1="452.50" y1="214.32" x2="456.90" y2="256.80" stroke="#ee10ee" stroke-width="1.1" opacity="0.3"/>
<line x1="456.90" y1="256.80" x2="458.20" y2="256.80" stroke="#ee10ee" stroke-width="1.1" opacity="0.3"/>
<line x1="446.50" y1="216.72" x2="452.50" y2="216.72" stroke="#ee10ee" stroke-width="1.1" opacity="0.3"/>
<line x1="452.50" y1="216.72" x2="456.90" y2="271.65" stroke="#ee10ee" stroke-width="1.1" opacity="0.3"/>
<line x1="456.90" y1="271.65" x2="458.20" y2="271.65" stroke="#ee10ee" stroke-width="1.1" opacity="0.3"/>
<line x1="446.50" y1="217.81" x2="452.50" y2="217.81" stroke="#ee10ee" stroke-width="1.1" opacity="0.3"/>
<line x1="452.50" y1="217.81" x2="456.90" y2="279.07" stroke="#ee10ee" stroke-width="1.1" opacity="0.3"/>
<line x1="456.90" y1="279.07" x2="458.20" y2="279.07" stroke="#ee10ee" stroke-width="1.1" opacity="0.3"/>
<line x1="446.50" y1="218.24" x2="452.50" y2="218.24" stroke="#ee10ee" stroke-width="1.1" opacity="0.3"/>
<line x1="452.50" y1="218.24" x2="456.90" y2="286.50" stroke="#ee10ee" stroke-width="1.1" opacity="0.3"/>
<line x1="456.90" y1="286.50" x2="458.20" y2="286.50" stroke="#ee10ee" stroke-width="1.1" opacity="0.3"/>
<line x1="446.50" y1="220.64" x2="452.50" y2="220.64" stroke="#ee10ee" stroke-width="1.1" opacity="0.3"/>
<line x1="452.50" y1="220.64" x2="456.90" y2="294.06" stroke="#ee10ee" stroke-width="1.1" opacity="0.3"/>
<line x1="456.90" y1="294.06" x2="458.20" y2="294.06" stroke="#ee10ee" stroke-width="1.1" opacity="0.3"/>
<line x1="446.50" y1="224.35" x2="452.50" y2="224.35" stroke="#ee10ee" stroke-width="1.1" opacity="0.3"/>
<line x1="452.50" y1="224.35" x2="456.90" y2="309.18" stroke="#ee10ee" stroke-width="1.1" opacity="0.3"/>
<line x1="456.90" y1="309.18" x2="458.20" y2="309.18" stroke="#ee10ee" stroke-width="1.1" opacity="0.3"/>
<line x1="446.50" y1="228.05" x2="452.50" y2="228.05" stroke="#ee10ee" stroke-width="1.1" opacity="0.3"/>
<line x1="452.50" y1="228.05" x2="456.90" y2="316.74" stroke="#ee10ee" stroke-width="1.1" opacity="0.3"/>
<line x1="456.90" y1="316.74" x2="458.20" y2="316.74" stroke="#ee10ee" stroke-width="1.1" opacity="0.3"/>
<line x1="446.50" y1="230.89" x2="452.50" y2="230.89" stroke="#ee1122" stroke-width="1.1" opacity="0.3"/>
<line x1="452.50" y1="230.89" x2="456.90" y2="324.30" stroke="#ee1122" stroke-width="1.1" opacity="0.3"/>
<line x1="456.90" y1="324.30" x2="458.20" y2="324.30" stroke="#ee1122" stroke-width="1.1" opacity="0.3"/>
<line x1="446.50" y1="240.48" x2="452.50" y2="240.48" stroke="#ee10ee" stroke-width="1.1" opacity="0.3"/>
<line x1="452.50" y1="240.48" x2="456.90" y2="331.57" stroke="#ee10ee" stroke-width="1.1" opacity="0.3"/>
<line x1="456.90" y1="331.57" x2="458.20" y2="331.57" stroke="#ee10ee" stroke-width="1.1" opacity="0.3"/>
<line x1="446.50" y1="242.22" x2="452.50" y2="242.22" stroke="#ee1122" stroke-width="1.1" opacity="0.3"/>
<line x1="452.50" y1="242.22" x2="456.90" y2="346.10" stroke="#ee1122" stroke-width="1.1" opacity="0.3"/>
<line x1="456.90" y1="346.10" x2="458.20" y2="346.10" stroke="#ee1122" stroke-width="1.1" opacity="0.3"/>
<line x1="446.50" y1="248.11" x2="452.50" y2="248.11" stroke="#ee10ee" stroke-width="1.1" opacity="0.3"/>
<line x1="452.50" y1="248.11" x2="456.90" y2="353.56" stroke="#ee10ee" stroke-width="1.1" opacity="0.3"/>
<line x1="456.90" y1="353.56" x2="458.20" y2="353.56" stroke="#ee10ee" stroke-width="1.1" opacity="0.3"/>
<line x1="446.50" y1="301.30" x2="452.50" y2="301.30" stroke="#ee10ee" stroke-width="1.1" opacity="0.3"/>
<line x1="452.50" y1="301.30" x2="456.90" y2="383.40" stroke="#ee10ee" stroke-width="1.1" opacity="0.3"/>
<line x1="456.90" y1="383.40" x2="458.20" y2="383.40" stroke="#ee10ee" stroke-width="1.1" opacity="0.3"/>
<line x1="446.50" y1="310.24" x2="452.50" y2="310.24" stroke="#ee10ee" stroke-width="1.1" opacity="0.3"/>
<line x1="452.50" y1="310.24" x2="456.90" y2="390.82" stroke="#ee10ee" stroke-width="1.1" opacity="0.3"/>
<line x1="456.90" y1="390.82" x2="458.20" y2="390.82" stroke="#ee10ee" stroke-width="1.1" opacity="0.3"/>
<line x1="446.50" y1="323.76" x2="452.50" y2="323.76" stroke="#ee10ee" stroke-width="1.1" opacity="0.3"/>
<line x1="452.50" y1="323.76" x2="456.90" y2="413.10" stroke="#ee10ee" stroke-width="1.1" opacity="0.3"/>
<line x1="456.90" y1="413.10" x2="458.20" y2="413.10" stroke="#ee10ee" stroke-width="1.1" opacity="0.3"/>
<text x="459.60" y="61.30" font-size="6.5" fill="#ee10ee" font-weight="bold">DC40316-337/349</text>
<text x="459.60" y="68.67" font-size="6.5" fill="#ee10ee" font-weight="bold">BNL2650-215/230</text>
<text x="459.60" y="76.04" font-size="6.5" fill="#111">CIR112-245/262</text>
<text x="459.60" y="83.41" font-size="6.5" fill="#111">HAU1809-277/268</text>
<text x="459.60" y="90.79" font-size="6.5" fill="#111">HAU1283-132/135</text>
<text x="459.60" y="98.16" font-size="6.5" fill="#111">UCR42-193/0</text>
<text x="459.60" y="105.53" font-size="6.5" fill="#ee10ee" font-weight="bold">CIR069-264/274</text>
<text x="459.60" y="112.90" font-size="6.5" fill="#111">UCR108-189/170</text>
<text x="459.60" y="120.21" font-size="6.5" fill="#111">UCR76-265/0</text>
<text x="459.60" y="127.52" font-size="6.5" fill="#ee10ee" font-weight="bold">CIR316-206/214</text>
<text x="459.60" y="134.84" font-size="6.5" fill="#111">UCR64-247/248</text>
<text x="459.60" y="142.15" font-size="6.5" fill="#111">UCR64-0/240</text>
<text x="459.60" y="149.46" font-size="6.5" fill="#111">UCR80-0/240</text>
<text x="459.60" y="156.78" font-size="6.5" fill="#111">UCR58-252/253</text>
<text x="459.60" y="164.09" font-size="6.5" fill="#111">UCR65-0/181</text>
<text x="459.60" y="171.40" font-size="6.5" fill="#ee10ee" font-weight="bold">UCR49-271/269</text>
<text x="459.60" y="178.68" font-size="6.5" fill="#111">UCR77-197/210</text>
<text x="459.60" y="185.95" font-size="6.5" fill="#111">UCR83-246/0</text>
<text x="459.60" y="193.22" font-size="6.5" fill="#111">UCR86-215-222/0</text>
<text x="459.60" y="200.50" font-size="6.5" fill="#ee10ee" font-weight="bold">UCR56-235/238</text>
<text x="459.60" y="207.86" font-size="6.5" fill="#111">UCR86-229/0</text>
<text x="459.60" y="215.22" font-size="6.5" fill="#111">UCR87-244/0</text>
<text x="459.60" y="222.58" font-size="6.5" fill="#111">HAU2681-364/0</text>
<text x="459.60" y="229.94" font-size="6.5" fill="#111">MGhES-16-241-243/0</text>
<text x="459.60" y="237.30" font-size="6.5" fill="#111">NAU2016-274/0</text>
<text x="459.60" y="244.57" font-size="6.5" fill="#111">NAU3770-183/194</text>
<text x="459.60" y="251.83" font-size="6.5" fill="#111">CM140-113/124</text>
<text x="459.60" y="259.10" font-size="6.5" fill="#ee10ee" font-weight="bold">NAU6697-205/180</text>
<text x="459.60" y="266.53" font-size="6.5" fill="#111">NAU3390-233/231</text>
<text x="459.60" y="273.95" font-size="6.5" fill="#ee10ee" font-weight="bold">NAU2152-242/240</text>
<text x="459.60" y="281.38" font-size="6.5" fill="#ee10ee" font-weight="bold">NAU6525-249/243</text>
<text x="459.60" y="288.80" font-size="6.5" fill="#ee10ee" font-weight="bold">NAU6697-210/206</text>
<text x="459.60" y="296.36" font-size="6.5" fill="#ee10ee" font-weight="bold">NAU6525-240/208</text>
<text x="459.60" y="303.92" font-size="6.5" fill="#111">BNL1231-197/0</text>
<text x="459.60" y="311.48" font-size="6.5" fill="#ee10ee" font-weight="bold">MUCS088-176/160</text>
<text x="459.60" y="319.04" font-size="6.5" fill="#ee10ee" font-weight="bold">Gh288-152/156</text>
<text x="459.60" y="326.60" font-size="6.5" fill="#ee1122" font-weight="bold">BNL3279-126/140</text>
<text x="459.60" y="333.87" font-size="6.5" fill="#ee10ee" font-weight="bold">Gh132-211/175</text>
<text x="459.60" y="341.13" font-size="6.5" fill="#111">TMB1871-253-257/0</text>
<text x="459.60" y="348.40" font-size="6.5" fill="#ee1122" font-weight="bold">NAU6507-0/184</text>
<text x="459.60" y="355.86" font-size="6.5" fill="#ee10ee" font-weight="bold">NAU5428-230/0</text>
<text x="459.60" y="363.32" font-size="6.5" fill="#111">NAU5505-229/230</text>
<text x="459.60" y="370.78" font-size="6.5" fill="#111">BNL836-0/242</text>
<text x="459.60" y="378.24" font-size="6.5" fill="#111">NAU3493-0/191</text>
<text x="459.60" y="385.70" font-size="6.5" fill="#ee10ee" font-weight="bold">BNL1551-189/191</text>
<text x="459.60" y="393.12" font-size="6.5" fill="#ee10ee" font-weight="bold">BNL3649-0/200</text>
<text x="459.60" y="400.55" font-size="6.5" fill="#111">TMB0628-214/217</text>
<text x="459.60" y="407.98" font-size="6.5" fill="#111">NAU3806-277/285</text>
<text x="459.60" y="415.40" font-size="6.5" fill="#ee10ee" font-weight="bold">BNL1408-230/235</text>
<text x="459.60" y="422.72" font-size="6.5" fill="#111">Gh316-122/125</text>
<text x="459.60" y="430.03" font-size="6.5" fill="#111">BNL2895-247/227</text>
<text x="459.60" y="437.35" font-size="6.5" fill="#111">CIR061-146/0</text>
<text x="459.60" y="444.67" font-size="6.5" fill="#111">Gh055-120/0</text>
<text x="459.60" y="451.98" font-size="6.5" fill="#111">BNL3257-240/0</text>
<text x="459.60" y="459.30" font-size="6.5" fill="#111">BNL0625-243/244</text>
<text x="459.60" y="466.73" font-size="6.5" fill="#111">HAU1756-133/136</text>
<text x="459.60" y="474.17" font-size="6.5" fill="#111">CIR061-167/161</text>
<text x="459.60" y="481.60" font-size="6.5" fill="#111">JESPR245-165/145</text>
<text x="459.60" y="488.10" font-size="6.5" fill="#111">NAU2110-348/332</text>
</svg>
</body></html>
